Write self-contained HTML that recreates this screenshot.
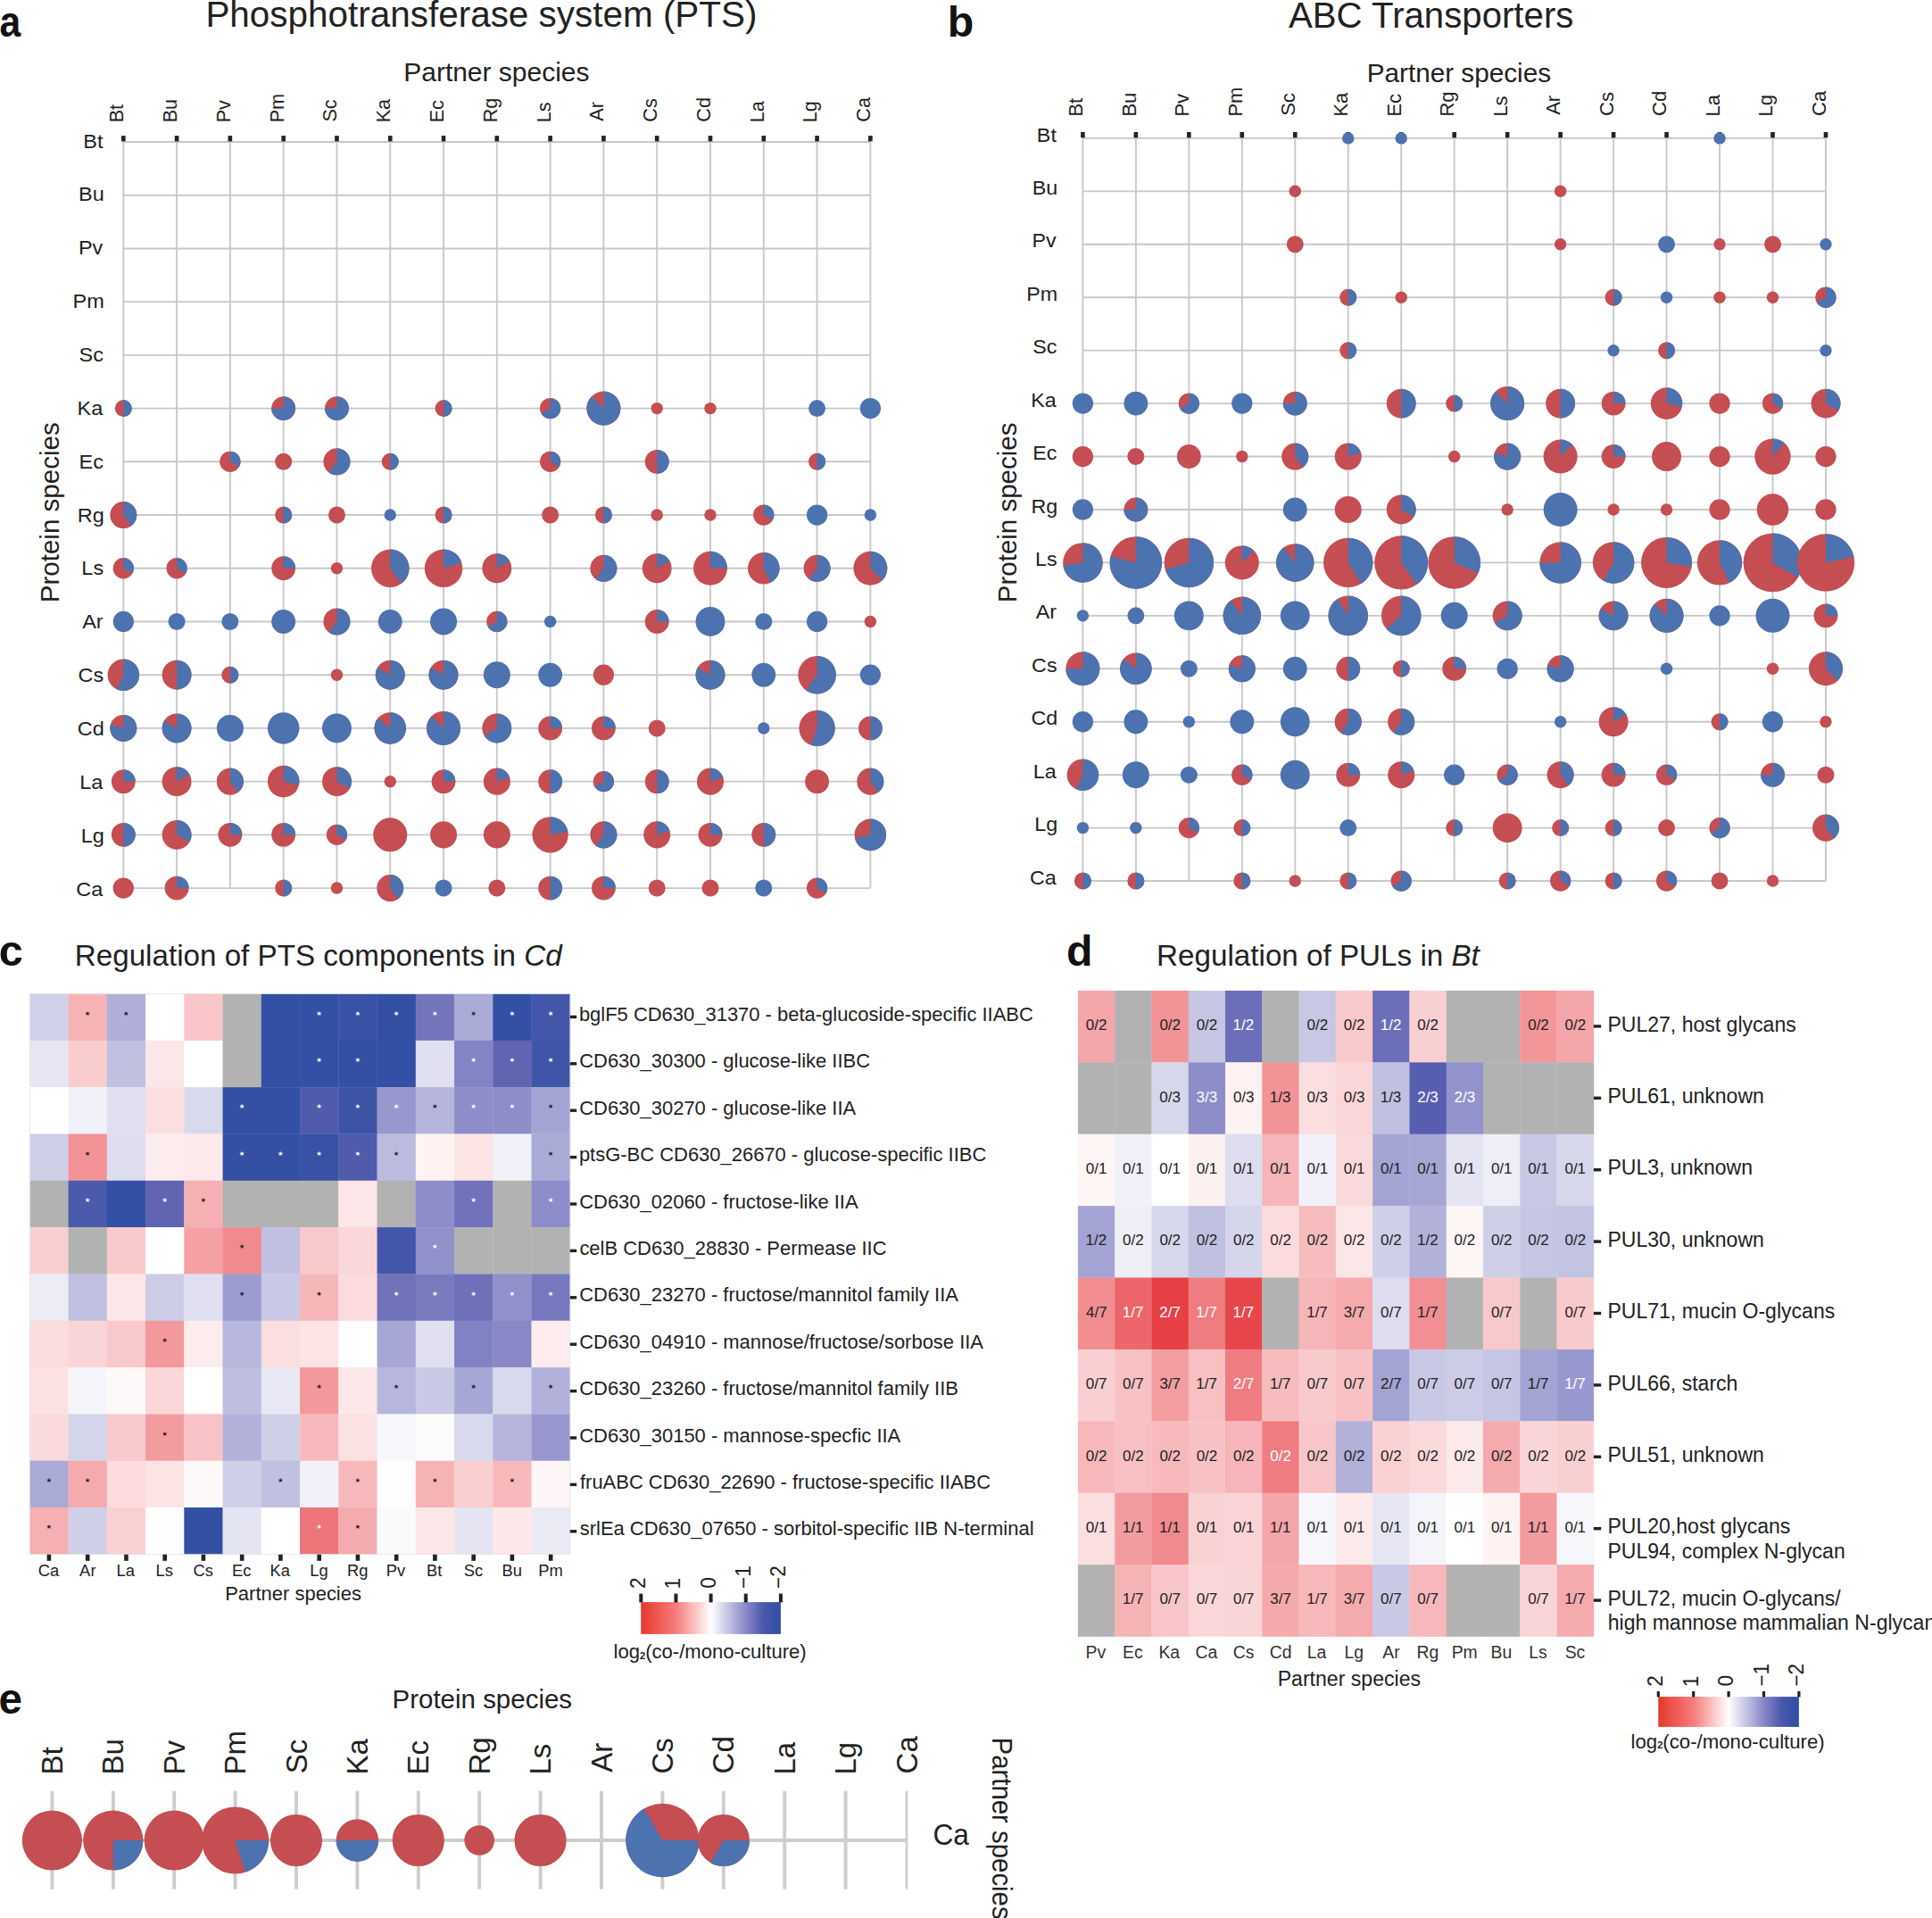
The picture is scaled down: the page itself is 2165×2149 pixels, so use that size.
<!DOCTYPE html>
<html><head><meta charset="utf-8"><title>Figure</title>
<style>html,body{margin:0;padding:0;background:#fff}svg{display:block}text{font-family:"Liberation Sans",sans-serif;white-space:pre}</style>
</head><body>
<svg width="2165" height="2149" viewBox="0 0 2165 2149">
<rect width="2165" height="2149" fill="#fff"/>
<path d="M138.30,159.00V995.08M138.30,159.00H975.36M198.09,159.00V995.08M138.30,218.72H975.36M257.88,159.00V995.08M138.30,278.44H975.36M317.67,159.00V995.08M138.30,338.16H975.36M377.46,159.00V995.08M138.30,397.88H975.36M437.25,159.00V995.08M138.30,457.60H975.36M497.04,159.00V995.08M138.30,517.32H975.36M556.83,159.00V995.08M138.30,577.04H975.36M616.62,159.00V995.08M138.30,636.76H975.36M676.41,159.00V995.08M138.30,696.48H975.36M736.20,159.00V995.08M138.30,756.20H975.36M795.99,159.00V995.08M138.30,815.92H975.36M855.78,159.00V995.08M138.30,875.64H975.36M915.57,159.00V995.08M138.30,935.36H975.36M975.36,159.00V995.08M138.30,995.08H975.36" stroke="#c8c8c8" stroke-width="1.9" fill="none"/>
<rect x="136.00" y="152.10" width="4.6" height="6.3" fill="#222"/>
<rect x="195.79" y="152.10" width="4.6" height="6.3" fill="#222"/>
<rect x="255.58" y="152.10" width="4.6" height="6.3" fill="#222"/>
<rect x="315.37" y="152.10" width="4.6" height="6.3" fill="#222"/>
<rect x="375.16" y="152.10" width="4.6" height="6.3" fill="#222"/>
<rect x="434.95" y="152.10" width="4.6" height="6.3" fill="#222"/>
<rect x="494.74" y="152.10" width="4.6" height="6.3" fill="#222"/>
<rect x="554.53" y="152.10" width="4.6" height="6.3" fill="#222"/>
<rect x="614.32" y="152.10" width="4.6" height="6.3" fill="#222"/>
<rect x="674.11" y="152.10" width="4.6" height="6.3" fill="#222"/>
<rect x="733.90" y="152.10" width="4.6" height="6.3" fill="#222"/>
<rect x="793.69" y="152.10" width="4.6" height="6.3" fill="#222"/>
<rect x="853.48" y="152.10" width="4.6" height="6.3" fill="#222"/>
<rect x="913.27" y="152.10" width="4.6" height="6.3" fill="#222"/>
<rect x="973.06" y="152.10" width="4.6" height="6.3" fill="#222"/>
<circle cx="138.30" cy="457.60" r="9.50" fill="#c44e52"/>
<path d="M138.30,457.60L138.30,448.10A9.50,9.50 0 0 1 138.30,467.10Z" fill="#4c72b0"/>
<circle cx="317.67" cy="457.60" r="13.44" fill="#c44e52"/>
<path d="M317.67,457.60L317.67,444.16A13.44,13.44 0 1 1 304.23,457.60Z" fill="#4c72b0"/>
<circle cx="377.46" cy="457.60" r="13.44" fill="#c44e52"/>
<path d="M377.46,457.60L377.46,444.16A13.44,13.44 0 1 1 364.02,457.60Z" fill="#4c72b0"/>
<circle cx="497.04" cy="457.60" r="9.50" fill="#c44e52"/>
<path d="M497.04,457.60L497.04,448.10A9.50,9.50 0 0 1 497.04,467.10Z" fill="#4c72b0"/>
<circle cx="616.62" cy="457.60" r="11.64" fill="#c44e52"/>
<path d="M616.62,457.60L616.62,445.96A11.64,11.64 0 1 1 606.54,463.42Z" fill="#4c72b0"/>
<circle cx="676.41" cy="457.60" r="19.01" fill="#c44e52"/>
<path d="M676.41,457.60L676.41,438.59A19.01,19.01 0 1 1 662.97,444.16Z" fill="#4c72b0"/>
<circle cx="736.20" cy="457.60" r="6.72" fill="#c44e52"/>
<circle cx="795.99" cy="457.60" r="6.72" fill="#c44e52"/>
<circle cx="915.57" cy="457.60" r="9.50" fill="#4c72b0"/>
<circle cx="975.36" cy="457.60" r="11.64" fill="#4c72b0"/>
<circle cx="257.88" cy="517.32" r="11.64" fill="#c44e52"/>
<path d="M257.88,517.32L257.88,505.68A11.64,11.64 0 0 1 267.96,523.14Z" fill="#4c72b0"/>
<circle cx="317.67" cy="517.32" r="9.50" fill="#c44e52"/>
<circle cx="377.46" cy="517.32" r="15.03" fill="#c44e52"/>
<path d="M377.46,517.32L377.46,502.29A15.03,15.03 0 1 1 368.63,529.48Z" fill="#4c72b0"/>
<circle cx="437.25" cy="517.32" r="9.50" fill="#c44e52"/>
<path d="M437.25,517.32L437.25,507.82A9.50,9.50 0 0 1 437.25,526.82Z" fill="#4c72b0"/>
<circle cx="616.62" cy="517.32" r="11.64" fill="#c44e52"/>
<path d="M616.62,517.32L616.62,505.68A11.64,11.64 0 0 1 626.70,523.14Z" fill="#4c72b0"/>
<circle cx="736.20" cy="517.32" r="13.44" fill="#c44e52"/>
<path d="M736.20,517.32L736.20,503.88A13.44,13.44 0 0 1 736.20,530.76Z" fill="#4c72b0"/>
<circle cx="915.57" cy="517.32" r="9.50" fill="#c44e52"/>
<path d="M915.57,517.32L915.57,507.82A9.50,9.50 0 0 1 915.57,526.82Z" fill="#4c72b0"/>
<circle cx="138.30" cy="577.04" r="15.03" fill="#c44e52"/>
<path d="M138.30,577.04L138.30,562.01A15.03,15.03 0 0 1 147.13,589.20Z" fill="#4c72b0"/>
<circle cx="317.67" cy="577.04" r="9.50" fill="#c44e52"/>
<path d="M317.67,577.04L317.67,567.54A9.50,9.50 0 0 1 317.67,586.54Z" fill="#4c72b0"/>
<circle cx="377.46" cy="577.04" r="9.50" fill="#c44e52"/>
<circle cx="437.25" cy="577.04" r="6.72" fill="#4c72b0"/>
<circle cx="497.04" cy="577.04" r="9.50" fill="#c44e52"/>
<path d="M497.04,577.04L497.04,567.54A9.50,9.50 0 0 1 497.04,586.54Z" fill="#4c72b0"/>
<circle cx="616.62" cy="577.04" r="9.50" fill="#c44e52"/>
<circle cx="676.41" cy="577.04" r="9.50" fill="#c44e52"/>
<path d="M676.41,577.04L676.41,567.54A9.50,9.50 0 0 1 676.41,586.54Z" fill="#4c72b0"/>
<circle cx="736.20" cy="577.04" r="6.72" fill="#c44e52"/>
<circle cx="795.99" cy="577.04" r="6.72" fill="#c44e52"/>
<circle cx="855.78" cy="577.04" r="11.64" fill="#c44e52"/>
<path d="M855.78,577.04L855.78,565.40A11.64,11.64 0 0 1 865.86,582.86Z" fill="#4c72b0"/>
<circle cx="915.57" cy="577.04" r="11.64" fill="#4c72b0"/>
<circle cx="975.36" cy="577.04" r="6.72" fill="#4c72b0"/>
<circle cx="138.30" cy="636.76" r="11.64" fill="#c44e52"/>
<path d="M138.30,636.76L138.30,625.12A11.64,11.64 0 0 1 148.38,642.58Z" fill="#4c72b0"/>
<circle cx="198.09" cy="636.76" r="11.64" fill="#c44e52"/>
<path d="M198.09,636.76L198.09,625.12A11.64,11.64 0 0 1 208.17,642.58Z" fill="#4c72b0"/>
<circle cx="317.67" cy="636.76" r="13.44" fill="#c44e52"/>
<path d="M317.67,636.76L317.67,623.32A13.44,13.44 0 0 1 331.11,636.76Z" fill="#4c72b0"/>
<circle cx="377.46" cy="636.76" r="6.72" fill="#c44e52"/>
<circle cx="437.25" cy="636.76" r="21.25" fill="#c44e52"/>
<path d="M437.25,636.76L437.25,615.51A21.25,21.25 0 0 1 449.74,653.95Z" fill="#4c72b0"/>
<circle cx="497.04" cy="636.76" r="21.25" fill="#c44e52"/>
<path d="M497.04,636.76L497.04,615.51A21.25,21.25 0 0 1 517.25,630.19Z" fill="#4c72b0"/>
<circle cx="556.83" cy="636.76" r="16.46" fill="#c44e52"/>
<path d="M556.83,636.76L556.83,620.30A16.46,16.46 0 0 1 571.09,628.53Z" fill="#4c72b0"/>
<circle cx="676.41" cy="636.76" r="15.03" fill="#c44e52"/>
<path d="M676.41,636.76L676.41,621.73A15.03,15.03 0 1 1 667.58,648.92Z" fill="#4c72b0"/>
<circle cx="736.20" cy="636.76" r="16.46" fill="#c44e52"/>
<path d="M736.20,636.76L736.20,620.30A16.46,16.46 0 0 1 750.46,628.53Z" fill="#4c72b0"/>
<circle cx="795.99" cy="636.76" r="19.01" fill="#c44e52"/>
<path d="M795.99,636.76L795.99,617.75A19.01,19.01 0 0 1 815.00,636.76Z" fill="#4c72b0"/>
<circle cx="855.78" cy="636.76" r="17.78" fill="#c44e52"/>
<path d="M855.78,636.76L855.78,618.98A17.78,17.78 0 0 1 863.49,652.78Z" fill="#4c72b0"/>
<circle cx="915.57" cy="636.76" r="15.03" fill="#c44e52"/>
<path d="M915.57,636.76L915.57,621.73A15.03,15.03 0 1 1 906.74,648.92Z" fill="#4c72b0"/>
<circle cx="975.36" cy="636.76" r="19.01" fill="#c44e52"/>
<path d="M975.36,636.76L975.36,617.75A19.01,19.01 0 0 1 988.80,650.20Z" fill="#4c72b0"/>
<circle cx="138.30" cy="696.48" r="11.64" fill="#4c72b0"/>
<circle cx="198.09" cy="696.48" r="9.50" fill="#4c72b0"/>
<circle cx="257.88" cy="696.48" r="9.50" fill="#4c72b0"/>
<circle cx="317.67" cy="696.48" r="13.44" fill="#4c72b0"/>
<circle cx="377.46" cy="696.48" r="15.03" fill="#c44e52"/>
<path d="M377.46,696.48L377.46,681.45A15.03,15.03 0 1 1 368.63,708.64Z" fill="#4c72b0"/>
<circle cx="437.25" cy="696.48" r="13.44" fill="#4c72b0"/>
<circle cx="497.04" cy="696.48" r="15.03" fill="#4c72b0"/>
<circle cx="556.83" cy="696.48" r="11.64" fill="#c44e52"/>
<path d="M556.83,696.48L556.83,684.84A11.64,11.64 0 1 1 546.75,702.30Z" fill="#4c72b0"/>
<circle cx="616.62" cy="696.48" r="6.72" fill="#4c72b0"/>
<circle cx="736.20" cy="696.48" r="13.44" fill="#c44e52"/>
<path d="M736.20,696.48L736.20,683.04A13.44,13.44 0 0 1 749.64,696.48Z" fill="#4c72b0"/>
<circle cx="795.99" cy="696.48" r="16.46" fill="#4c72b0"/>
<circle cx="855.78" cy="696.48" r="9.50" fill="#4c72b0"/>
<circle cx="915.57" cy="696.48" r="11.64" fill="#4c72b0"/>
<circle cx="975.36" cy="696.48" r="6.72" fill="#c44e52"/>
<circle cx="138.30" cy="756.20" r="17.78" fill="#c44e52"/>
<path d="M138.30,756.20L138.30,738.42A17.78,17.78 0 1 1 130.59,772.22Z" fill="#4c72b0"/>
<circle cx="198.09" cy="756.20" r="16.46" fill="#c44e52"/>
<path d="M198.09,756.20L198.09,739.74A16.46,16.46 0 0 1 198.09,772.66Z" fill="#4c72b0"/>
<circle cx="257.88" cy="756.20" r="9.50" fill="#c44e52"/>
<path d="M257.88,756.20L257.88,746.70A9.50,9.50 0 0 1 257.88,765.70Z" fill="#4c72b0"/>
<circle cx="377.46" cy="756.20" r="6.72" fill="#c44e52"/>
<circle cx="437.25" cy="756.20" r="16.46" fill="#c44e52"/>
<path d="M437.25,756.20L437.25,739.74A16.46,16.46 0 1 1 422.99,747.97Z" fill="#4c72b0"/>
<circle cx="497.04" cy="756.20" r="16.46" fill="#c44e52"/>
<path d="M497.04,756.20L497.04,739.74A16.46,16.46 0 1 1 482.78,747.97Z" fill="#4c72b0"/>
<circle cx="556.83" cy="756.20" r="15.03" fill="#4c72b0"/>
<circle cx="616.62" cy="756.20" r="13.44" fill="#4c72b0"/>
<circle cx="676.41" cy="756.20" r="11.64" fill="#c44e52"/>
<circle cx="795.99" cy="756.20" r="16.46" fill="#c44e52"/>
<path d="M795.99,756.20L795.99,739.74A16.46,16.46 0 1 1 781.73,747.97Z" fill="#4c72b0"/>
<circle cx="855.78" cy="756.20" r="13.44" fill="#4c72b0"/>
<circle cx="915.57" cy="756.20" r="21.25" fill="#c44e52"/>
<path d="M915.57,756.20L915.57,734.95A21.25,21.25 0 1 1 903.08,773.39Z" fill="#4c72b0"/>
<circle cx="975.36" cy="756.20" r="11.64" fill="#4c72b0"/>
<circle cx="138.30" cy="815.92" r="15.03" fill="#c44e52"/>
<path d="M138.30,815.92L138.30,800.89A15.03,15.03 0 1 1 124.01,811.28Z" fill="#4c72b0"/>
<circle cx="198.09" cy="815.92" r="16.46" fill="#c44e52"/>
<path d="M198.09,815.92L198.09,799.46A16.46,16.46 0 1 1 183.83,807.69Z" fill="#4c72b0"/>
<circle cx="257.88" cy="815.92" r="15.03" fill="#4c72b0"/>
<circle cx="317.67" cy="815.92" r="17.78" fill="#4c72b0"/>
<circle cx="377.46" cy="815.92" r="16.46" fill="#4c72b0"/>
<circle cx="437.25" cy="815.92" r="17.78" fill="#c44e52"/>
<path d="M437.25,815.92L437.25,798.14A17.78,17.78 0 1 1 423.35,804.83Z" fill="#4c72b0"/>
<circle cx="497.04" cy="815.92" r="19.01" fill="#c44e52"/>
<path d="M497.04,815.92L497.04,796.91A19.01,19.01 0 1 1 483.60,802.48Z" fill="#4c72b0"/>
<circle cx="556.83" cy="815.92" r="16.46" fill="#c44e52"/>
<path d="M556.83,815.92L556.83,799.46A16.46,16.46 0 1 1 542.57,824.15Z" fill="#4c72b0"/>
<circle cx="616.62" cy="815.92" r="13.44" fill="#c44e52"/>
<path d="M616.62,815.92L616.62,802.48A13.44,13.44 0 0 1 630.06,815.92Z" fill="#4c72b0"/>
<circle cx="676.41" cy="815.92" r="13.44" fill="#c44e52"/>
<path d="M676.41,815.92L676.41,802.48A13.44,13.44 0 0 1 689.85,815.92Z" fill="#4c72b0"/>
<circle cx="736.20" cy="815.92" r="9.50" fill="#c44e52"/>
<circle cx="855.78" cy="815.92" r="6.72" fill="#4c72b0"/>
<circle cx="915.57" cy="815.92" r="20.16" fill="#c44e52"/>
<path d="M915.57,815.92L915.57,795.76A20.16,20.16 0 1 1 908.67,834.86Z" fill="#4c72b0"/>
<circle cx="975.36" cy="815.92" r="13.44" fill="#c44e52"/>
<path d="M975.36,815.92L975.36,802.48A13.44,13.44 0 0 1 975.36,829.36Z" fill="#4c72b0"/>
<circle cx="138.30" cy="875.64" r="13.44" fill="#c44e52"/>
<path d="M138.30,875.64L138.30,862.20A13.44,13.44 0 0 1 151.74,875.64Z" fill="#4c72b0"/>
<circle cx="198.09" cy="875.64" r="16.46" fill="#c44e52"/>
<path d="M198.09,875.64L198.09,859.18A16.46,16.46 0 0 1 212.35,867.41Z" fill="#4c72b0"/>
<circle cx="257.88" cy="875.64" r="15.03" fill="#c44e52"/>
<path d="M257.88,875.64L257.88,860.61A15.03,15.03 0 0 1 266.71,887.80Z" fill="#4c72b0"/>
<circle cx="317.67" cy="875.64" r="17.78" fill="#c44e52"/>
<path d="M317.67,875.64L317.67,857.86A17.78,17.78 0 0 1 335.00,879.60Z" fill="#4c72b0"/>
<circle cx="377.46" cy="875.64" r="16.46" fill="#c44e52"/>
<path d="M377.46,875.64L377.46,859.18A16.46,16.46 0 0 1 391.72,883.87Z" fill="#4c72b0"/>
<circle cx="437.25" cy="875.64" r="6.72" fill="#c44e52"/>
<circle cx="497.04" cy="875.64" r="13.44" fill="#c44e52"/>
<path d="M497.04,875.64L497.04,862.20A13.44,13.44 0 0 1 510.48,875.64Z" fill="#4c72b0"/>
<circle cx="556.83" cy="875.64" r="15.03" fill="#c44e52"/>
<path d="M556.83,875.64L556.83,860.61A15.03,15.03 0 0 1 571.12,871.00Z" fill="#4c72b0"/>
<circle cx="616.62" cy="875.64" r="13.44" fill="#c44e52"/>
<path d="M616.62,875.64L616.62,862.20A13.44,13.44 0 0 1 616.62,889.08Z" fill="#4c72b0"/>
<circle cx="676.41" cy="875.64" r="11.64" fill="#c44e52"/>
<path d="M676.41,875.64L676.41,864.00A11.64,11.64 0 1 1 666.33,881.46Z" fill="#4c72b0"/>
<circle cx="736.20" cy="875.64" r="13.44" fill="#c44e52"/>
<path d="M736.20,875.64L736.20,862.20A13.44,13.44 0 0 1 736.20,889.08Z" fill="#4c72b0"/>
<circle cx="795.99" cy="875.64" r="15.03" fill="#c44e52"/>
<path d="M795.99,875.64L795.99,860.61A15.03,15.03 0 0 1 810.28,871.00Z" fill="#4c72b0"/>
<circle cx="915.57" cy="875.64" r="13.44" fill="#c44e52"/>
<circle cx="975.36" cy="875.64" r="15.03" fill="#c44e52"/>
<path d="M975.36,875.64L975.36,860.61A15.03,15.03 0 0 1 984.19,887.80Z" fill="#4c72b0"/>
<circle cx="138.30" cy="935.36" r="13.44" fill="#c44e52"/>
<path d="M138.30,935.36L138.30,921.92A13.44,13.44 0 0 1 138.30,948.80Z" fill="#4c72b0"/>
<circle cx="198.09" cy="935.36" r="16.46" fill="#c44e52"/>
<path d="M198.09,935.36L198.09,918.90A16.46,16.46 0 0 1 212.35,943.59Z" fill="#4c72b0"/>
<circle cx="257.88" cy="935.36" r="13.44" fill="#c44e52"/>
<path d="M257.88,935.36L257.88,921.92A13.44,13.44 0 0 1 271.32,935.36Z" fill="#4c72b0"/>
<circle cx="317.67" cy="935.36" r="13.44" fill="#c44e52"/>
<path d="M317.67,935.36L317.67,921.92A13.44,13.44 0 0 1 331.11,935.36Z" fill="#4c72b0"/>
<circle cx="377.46" cy="935.36" r="11.64" fill="#c44e52"/>
<path d="M377.46,935.36L377.46,923.72A11.64,11.64 0 0 1 387.54,941.18Z" fill="#4c72b0"/>
<circle cx="437.25" cy="935.36" r="19.01" fill="#c44e52"/>
<circle cx="497.04" cy="935.36" r="15.03" fill="#c44e52"/>
<circle cx="556.83" cy="935.36" r="15.03" fill="#c44e52"/>
<circle cx="616.62" cy="935.36" r="20.16" fill="#c44e52"/>
<path d="M616.62,935.36L616.62,915.20A20.16,20.16 0 0 1 636.47,931.86Z" fill="#4c72b0"/>
<circle cx="676.41" cy="935.36" r="15.03" fill="#c44e52"/>
<path d="M676.41,935.36L676.41,920.33A15.03,15.03 0 1 1 667.58,947.52Z" fill="#4c72b0"/>
<circle cx="736.20" cy="935.36" r="15.03" fill="#c44e52"/>
<path d="M736.20,935.36L736.20,920.33A15.03,15.03 0 0 1 750.49,930.72Z" fill="#4c72b0"/>
<circle cx="795.99" cy="935.36" r="13.44" fill="#c44e52"/>
<path d="M795.99,935.36L795.99,921.92A13.44,13.44 0 0 1 809.43,935.36Z" fill="#4c72b0"/>
<circle cx="855.78" cy="935.36" r="13.44" fill="#c44e52"/>
<path d="M855.78,935.36L855.78,921.92A13.44,13.44 0 0 1 855.78,948.80Z" fill="#4c72b0"/>
<circle cx="975.36" cy="935.36" r="17.78" fill="#c44e52"/>
<path d="M975.36,935.36L975.36,917.58A17.78,17.78 0 1 1 958.03,939.32Z" fill="#4c72b0"/>
<circle cx="138.30" cy="995.08" r="11.64" fill="#c44e52"/>
<circle cx="198.09" cy="995.08" r="13.44" fill="#c44e52"/>
<path d="M198.09,995.08L198.09,981.64A13.44,13.44 0 0 1 211.53,995.08Z" fill="#4c72b0"/>
<circle cx="317.67" cy="995.08" r="9.50" fill="#c44e52"/>
<path d="M317.67,995.08L317.67,985.58A9.50,9.50 0 0 1 317.67,1004.58Z" fill="#4c72b0"/>
<circle cx="377.46" cy="995.08" r="6.72" fill="#c44e52"/>
<circle cx="437.25" cy="995.08" r="15.03" fill="#c44e52"/>
<path d="M437.25,995.08L437.25,980.05A15.03,15.03 0 0 1 446.08,1007.24Z" fill="#4c72b0"/>
<circle cx="497.04" cy="995.08" r="9.50" fill="#4c72b0"/>
<circle cx="556.83" cy="995.08" r="9.50" fill="#c44e52"/>
<circle cx="616.62" cy="995.08" r="13.44" fill="#c44e52"/>
<path d="M616.62,995.08L616.62,981.64A13.44,13.44 0 0 1 616.62,1008.52Z" fill="#4c72b0"/>
<circle cx="676.41" cy="995.08" r="13.44" fill="#c44e52"/>
<path d="M676.41,995.08L676.41,981.64A13.44,13.44 0 0 1 689.85,995.08Z" fill="#4c72b0"/>
<circle cx="736.20" cy="995.08" r="9.50" fill="#c44e52"/>
<circle cx="795.99" cy="995.08" r="9.50" fill="#c44e52"/>
<circle cx="855.78" cy="995.08" r="9.50" fill="#4c72b0"/>
<circle cx="915.57" cy="995.08" r="11.64" fill="#c44e52"/>
<path d="M915.57,995.08L915.57,983.44A11.64,11.64 0 0 1 925.65,1000.90Z" fill="#4c72b0"/>
<text transform="translate(-0.44,41.30)" font-size="47.5" font-weight="bold" font-style="normal" fill="#111" textLength="23.75" lengthAdjust="spacingAndGlyphs">a</text>
<text transform="translate(230.38,29.80)" font-size="40.3" font-weight="normal" font-style="normal" fill="#222" textLength="618.11" lengthAdjust="spacingAndGlyphs">Phosphotransferase system (PTS)</text>
<text transform="translate(452.24,91.30)" font-size="29.8" font-weight="normal" font-style="normal" fill="#222" textLength="208.23" lengthAdjust="spacingAndGlyphs">Partner species</text>
<text transform="translate(65.90,675.22) rotate(-90)" font-size="29.5" font-weight="normal" font-style="normal" fill="#222" textLength="201.88" lengthAdjust="spacingAndGlyphs">Protein species</text>
<text transform="translate(138.20,137.37) rotate(-90)" font-size="22.2" font-weight="normal" font-style="normal" fill="#222" textLength="20.43" lengthAdjust="spacingAndGlyphs">Bt</text>
<text transform="translate(93.25,165.60)" font-size="22.6" font-weight="normal" font-style="normal" fill="#222" textLength="22.21" lengthAdjust="spacingAndGlyphs">Bt</text>
<text transform="translate(197.99,137.37) rotate(-90)" font-size="22.2" font-weight="normal" font-style="normal" fill="#222" textLength="26.45" lengthAdjust="spacingAndGlyphs">Bu</text>
<text transform="translate(88.11,225.45)" font-size="22.6" font-weight="normal" font-style="normal" fill="#222" textLength="28.75" lengthAdjust="spacingAndGlyphs">Bu</text>
<text transform="translate(257.78,137.37) rotate(-90)" font-size="22.2" font-weight="normal" font-style="normal" fill="#222" textLength="25.23" lengthAdjust="spacingAndGlyphs">Pv</text>
<text transform="translate(87.94,285.30)" font-size="22.6" font-weight="normal" font-style="normal" fill="#222" textLength="27.43" lengthAdjust="spacingAndGlyphs">Pv</text>
<text transform="translate(317.57,137.37) rotate(-90)" font-size="22.2" font-weight="normal" font-style="normal" fill="#222" textLength="32.43" lengthAdjust="spacingAndGlyphs">Pm</text>
<text transform="translate(81.57,345.15)" font-size="22.6" font-weight="normal" font-style="normal" fill="#222" textLength="35.26" lengthAdjust="spacingAndGlyphs">Pm</text>
<text transform="translate(377.36,136.57) rotate(-90)" font-size="22.2" font-weight="normal" font-style="normal" fill="#222" textLength="25.23" lengthAdjust="spacingAndGlyphs">Sc</text>
<text transform="translate(88.48,405.00)" font-size="22.6" font-weight="normal" font-style="normal" fill="#222" textLength="27.43" lengthAdjust="spacingAndGlyphs">Sc</text>
<text transform="translate(437.15,137.37) rotate(-90)" font-size="22.2" font-weight="normal" font-style="normal" fill="#222" textLength="26.45" lengthAdjust="spacingAndGlyphs">Ka</text>
<text transform="translate(86.53,464.85)" font-size="22.6" font-weight="normal" font-style="normal" fill="#222" textLength="28.75" lengthAdjust="spacingAndGlyphs">Ka</text>
<text transform="translate(496.94,137.37) rotate(-90)" font-size="22.2" font-weight="normal" font-style="normal" fill="#222" textLength="25.23" lengthAdjust="spacingAndGlyphs">Ec</text>
<text transform="translate(88.48,524.70)" font-size="22.6" font-weight="normal" font-style="normal" fill="#222" textLength="27.43" lengthAdjust="spacingAndGlyphs">Ec</text>
<text transform="translate(556.73,137.37) rotate(-90)" font-size="22.2" font-weight="normal" font-style="normal" fill="#222" textLength="27.64" lengthAdjust="spacingAndGlyphs">Rg</text>
<text transform="translate(86.77,584.55)" font-size="22.6" font-weight="normal" font-style="normal" fill="#222" textLength="30.05" lengthAdjust="spacingAndGlyphs">Rg</text>
<text transform="translate(616.52,137.37) rotate(-90)" font-size="22.2" font-weight="normal" font-style="normal" fill="#222" textLength="22.84" lengthAdjust="spacingAndGlyphs">Ls</text>
<text transform="translate(91.33,644.40)" font-size="22.6" font-weight="normal" font-style="normal" fill="#222" textLength="24.82" lengthAdjust="spacingAndGlyphs">Ls</text>
<text transform="translate(676.31,135.64) rotate(-90)" font-size="22.2" font-weight="normal" font-style="normal" fill="#222" textLength="21.62" lengthAdjust="spacingAndGlyphs">Ar</text>
<text transform="translate(92.17,704.25)" font-size="22.6" font-weight="normal" font-style="normal" fill="#222" textLength="23.50" lengthAdjust="spacingAndGlyphs">Ar</text>
<text transform="translate(736.10,136.68) rotate(-90)" font-size="22.2" font-weight="normal" font-style="normal" fill="#222" textLength="26.43" lengthAdjust="spacingAndGlyphs">Cs</text>
<text transform="translate(87.42,764.10)" font-size="22.6" font-weight="normal" font-style="normal" fill="#222" textLength="28.73" lengthAdjust="spacingAndGlyphs">Cs</text>
<text transform="translate(795.89,136.68) rotate(-90)" font-size="22.2" font-weight="normal" font-style="normal" fill="#222" textLength="27.64" lengthAdjust="spacingAndGlyphs">Cd</text>
<text transform="translate(86.77,823.95)" font-size="22.6" font-weight="normal" font-style="normal" fill="#222" textLength="30.05" lengthAdjust="spacingAndGlyphs">Cd</text>
<text transform="translate(855.68,137.37) rotate(-90)" font-size="22.2" font-weight="normal" font-style="normal" fill="#222" textLength="24.05" lengthAdjust="spacingAndGlyphs">La</text>
<text transform="translate(89.14,883.80)" font-size="22.6" font-weight="normal" font-style="normal" fill="#222" textLength="26.14" lengthAdjust="spacingAndGlyphs">La</text>
<text transform="translate(915.47,137.37) rotate(-90)" font-size="22.2" font-weight="normal" font-style="normal" fill="#222" textLength="24.05" lengthAdjust="spacingAndGlyphs">Lg</text>
<text transform="translate(90.67,943.65)" font-size="22.6" font-weight="normal" font-style="normal" fill="#222" textLength="26.14" lengthAdjust="spacingAndGlyphs">Lg</text>
<text transform="translate(975.26,136.68) rotate(-90)" font-size="22.2" font-weight="normal" font-style="normal" fill="#222" textLength="27.64" lengthAdjust="spacingAndGlyphs">Ca</text>
<text transform="translate(85.24,1003.50)" font-size="22.6" font-weight="normal" font-style="normal" fill="#222" textLength="30.05" lengthAdjust="spacingAndGlyphs">Ca</text>
<path d="M1213.40,154.90V987.06M1213.40,154.90H2045.98M1272.87,154.90V987.06M1213.40,214.34H2045.98M1332.34,154.90V987.06M1213.40,273.78H2045.98M1391.81,154.90V987.06M1213.40,333.22H2045.98M1451.28,154.90V987.06M1213.40,392.66H2045.98M1510.75,154.90V987.06M1213.40,452.10H2045.98M1570.22,154.90V987.06M1213.40,511.54H2045.98M1629.69,154.90V987.06M1213.40,570.98H2045.98M1689.16,154.90V987.06M1213.40,630.42H2045.98M1748.63,154.90V987.06M1213.40,689.86H2045.98M1808.10,154.90V987.06M1213.40,749.30H2045.98M1867.57,154.90V987.06M1213.40,808.74H2045.98M1927.04,154.90V987.06M1213.40,868.18H2045.98M1986.51,154.90V987.06M1213.40,927.62H2045.98M2045.98,154.90V987.06M1213.40,987.06H2045.98" stroke="#c8c8c8" stroke-width="1.9" fill="none"/>
<rect x="1211.10" y="148.00" width="4.6" height="6.3" fill="#222"/>
<rect x="1270.57" y="148.00" width="4.6" height="6.3" fill="#222"/>
<rect x="1330.04" y="148.00" width="4.6" height="6.3" fill="#222"/>
<rect x="1389.51" y="148.00" width="4.6" height="6.3" fill="#222"/>
<rect x="1448.98" y="148.00" width="4.6" height="6.3" fill="#222"/>
<rect x="1508.45" y="148.00" width="4.6" height="6.3" fill="#222"/>
<rect x="1567.92" y="148.00" width="4.6" height="6.3" fill="#222"/>
<rect x="1627.39" y="148.00" width="4.6" height="6.3" fill="#222"/>
<rect x="1686.86" y="148.00" width="4.6" height="6.3" fill="#222"/>
<rect x="1746.33" y="148.00" width="4.6" height="6.3" fill="#222"/>
<rect x="1805.80" y="148.00" width="4.6" height="6.3" fill="#222"/>
<rect x="1865.27" y="148.00" width="4.6" height="6.3" fill="#222"/>
<rect x="1924.74" y="148.00" width="4.6" height="6.3" fill="#222"/>
<rect x="1984.21" y="148.00" width="4.6" height="6.3" fill="#222"/>
<rect x="2043.68" y="148.00" width="4.6" height="6.3" fill="#222"/>
<circle cx="1510.75" cy="154.90" r="6.72" fill="#4c72b0"/>
<circle cx="1570.22" cy="154.90" r="6.72" fill="#4c72b0"/>
<circle cx="1927.04" cy="154.90" r="6.72" fill="#4c72b0"/>
<circle cx="1451.28" cy="214.34" r="6.72" fill="#c44e52"/>
<circle cx="1748.63" cy="214.34" r="6.72" fill="#c44e52"/>
<circle cx="1451.28" cy="273.78" r="9.50" fill="#c44e52"/>
<circle cx="1748.63" cy="273.78" r="6.72" fill="#c44e52"/>
<circle cx="1867.57" cy="273.78" r="9.50" fill="#4c72b0"/>
<circle cx="1927.04" cy="273.78" r="6.72" fill="#c44e52"/>
<circle cx="1986.51" cy="273.78" r="9.50" fill="#c44e52"/>
<circle cx="2045.98" cy="273.78" r="6.72" fill="#4c72b0"/>
<circle cx="1510.75" cy="333.22" r="9.50" fill="#c44e52"/>
<path d="M1510.75,333.22L1510.75,323.72A9.50,9.50 0 0 1 1510.75,342.72Z" fill="#4c72b0"/>
<circle cx="1570.22" cy="333.22" r="6.72" fill="#c44e52"/>
<circle cx="1808.10" cy="333.22" r="9.50" fill="#c44e52"/>
<path d="M1808.10,333.22L1808.10,323.72A9.50,9.50 0 0 1 1808.10,342.72Z" fill="#4c72b0"/>
<circle cx="1867.57" cy="333.22" r="6.72" fill="#4c72b0"/>
<circle cx="1927.04" cy="333.22" r="6.72" fill="#c44e52"/>
<circle cx="1986.51" cy="333.22" r="6.72" fill="#c44e52"/>
<circle cx="2045.98" cy="333.22" r="11.64" fill="#c44e52"/>
<path d="M2045.98,333.22L2045.98,321.58A11.64,11.64 0 1 1 2035.90,339.04Z" fill="#4c72b0"/>
<circle cx="1510.75" cy="392.66" r="9.50" fill="#c44e52"/>
<path d="M1510.75,392.66L1510.75,383.16A9.50,9.50 0 0 1 1510.75,402.16Z" fill="#4c72b0"/>
<circle cx="1808.10" cy="392.66" r="6.72" fill="#4c72b0"/>
<circle cx="1867.57" cy="392.66" r="9.50" fill="#c44e52"/>
<path d="M1867.57,392.66L1867.57,383.16A9.50,9.50 0 0 1 1867.57,402.16Z" fill="#4c72b0"/>
<circle cx="2045.98" cy="392.66" r="6.72" fill="#4c72b0"/>
<circle cx="1213.40" cy="452.10" r="11.64" fill="#4c72b0"/>
<circle cx="1272.87" cy="452.10" r="13.44" fill="#4c72b0"/>
<circle cx="1332.34" cy="452.10" r="11.64" fill="#c44e52"/>
<path d="M1332.34,452.10L1332.34,440.46A11.64,11.64 0 1 1 1322.26,457.92Z" fill="#4c72b0"/>
<circle cx="1391.81" cy="452.10" r="11.64" fill="#4c72b0"/>
<circle cx="1451.28" cy="452.10" r="13.44" fill="#c44e52"/>
<path d="M1451.28,452.10L1451.28,438.66A13.44,13.44 0 1 1 1437.84,452.10Z" fill="#4c72b0"/>
<circle cx="1570.22" cy="452.10" r="16.46" fill="#c44e52"/>
<path d="M1570.22,452.10L1570.22,435.64A16.46,16.46 0 0 1 1570.22,468.56Z" fill="#4c72b0"/>
<circle cx="1629.69" cy="452.10" r="9.50" fill="#c44e52"/>
<path d="M1629.69,452.10L1629.69,442.60A9.50,9.50 0 0 1 1629.69,461.60Z" fill="#4c72b0"/>
<circle cx="1689.16" cy="452.10" r="19.01" fill="#c44e52"/>
<path d="M1689.16,452.10L1689.16,433.09A19.01,19.01 0 1 1 1675.72,438.66Z" fill="#4c72b0"/>
<circle cx="1748.63" cy="452.10" r="16.46" fill="#c44e52"/>
<path d="M1748.63,452.10L1748.63,435.64A16.46,16.46 0 0 1 1748.63,468.56Z" fill="#4c72b0"/>
<circle cx="1808.10" cy="452.10" r="13.44" fill="#c44e52"/>
<path d="M1808.10,452.10L1808.10,438.66A13.44,13.44 0 0 1 1821.54,452.10Z" fill="#4c72b0"/>
<circle cx="1867.57" cy="452.10" r="17.78" fill="#c44e52"/>
<path d="M1867.57,452.10L1867.57,434.32A17.78,17.78 0 0 1 1884.90,456.06Z" fill="#4c72b0"/>
<circle cx="1927.04" cy="452.10" r="11.64" fill="#c44e52"/>
<circle cx="1986.51" cy="452.10" r="11.64" fill="#c44e52"/>
<path d="M1986.51,452.10L1986.51,440.46A11.64,11.64 0 0 1 1996.59,457.92Z" fill="#4c72b0"/>
<circle cx="2045.98" cy="452.10" r="16.46" fill="#c44e52"/>
<path d="M2045.98,452.10L2045.98,435.64A16.46,16.46 0 0 1 2060.24,460.33Z" fill="#4c72b0"/>
<circle cx="1213.40" cy="511.54" r="11.64" fill="#c44e52"/>
<circle cx="1272.87" cy="511.54" r="9.50" fill="#c44e52"/>
<circle cx="1332.34" cy="511.54" r="13.44" fill="#c44e52"/>
<circle cx="1391.81" cy="511.54" r="6.72" fill="#c44e52"/>
<circle cx="1451.28" cy="511.54" r="15.03" fill="#c44e52"/>
<path d="M1451.28,511.54L1451.28,496.51A15.03,15.03 0 0 1 1460.11,523.70Z" fill="#4c72b0"/>
<circle cx="1510.75" cy="511.54" r="15.03" fill="#c44e52"/>
<path d="M1510.75,511.54L1510.75,496.51A15.03,15.03 0 0 1 1525.04,506.90Z" fill="#4c72b0"/>
<circle cx="1629.69" cy="511.54" r="6.72" fill="#c44e52"/>
<circle cx="1689.16" cy="511.54" r="15.03" fill="#c44e52"/>
<path d="M1689.16,511.54L1689.16,496.51A15.03,15.03 0 1 1 1674.87,506.90Z" fill="#4c72b0"/>
<circle cx="1748.63" cy="511.54" r="19.01" fill="#c44e52"/>
<path d="M1748.63,511.54L1748.63,492.53A19.01,19.01 0 0 1 1762.07,498.10Z" fill="#4c72b0"/>
<circle cx="1808.10" cy="511.54" r="13.44" fill="#c44e52"/>
<path d="M1808.10,511.54L1808.10,498.10A13.44,13.44 0 0 1 1821.54,511.54Z" fill="#4c72b0"/>
<circle cx="1867.57" cy="511.54" r="16.46" fill="#c44e52"/>
<circle cx="1927.04" cy="511.54" r="11.64" fill="#c44e52"/>
<circle cx="1986.51" cy="511.54" r="20.16" fill="#c44e52"/>
<path d="M1986.51,511.54L1986.51,491.38A20.16,20.16 0 0 1 1999.47,496.10Z" fill="#4c72b0"/>
<circle cx="2045.98" cy="511.54" r="11.64" fill="#c44e52"/>
<circle cx="1213.40" cy="570.98" r="11.64" fill="#4c72b0"/>
<circle cx="1272.87" cy="570.98" r="13.44" fill="#c44e52"/>
<path d="M1272.87,570.98L1272.87,557.54A13.44,13.44 0 1 1 1259.43,570.98Z" fill="#4c72b0"/>
<circle cx="1451.28" cy="570.98" r="13.44" fill="#4c72b0"/>
<circle cx="1510.75" cy="570.98" r="15.03" fill="#c44e52"/>
<circle cx="1570.22" cy="570.98" r="16.46" fill="#c44e52"/>
<path d="M1570.22,570.98L1570.22,554.52A16.46,16.46 0 0 1 1584.48,579.21Z" fill="#4c72b0"/>
<circle cx="1689.16" cy="570.98" r="6.72" fill="#c44e52"/>
<circle cx="1748.63" cy="570.98" r="19.01" fill="#4c72b0"/>
<circle cx="1808.10" cy="570.98" r="6.72" fill="#c44e52"/>
<circle cx="1867.57" cy="570.98" r="6.72" fill="#c44e52"/>
<circle cx="1927.04" cy="570.98" r="11.64" fill="#c44e52"/>
<circle cx="1986.51" cy="570.98" r="17.78" fill="#c44e52"/>
<circle cx="2045.98" cy="570.98" r="11.64" fill="#c44e52"/>
<circle cx="1213.40" cy="630.42" r="22.29" fill="#c44e52"/>
<path d="M1213.40,630.42L1213.40,608.13A22.29,22.29 0 1 1 1191.34,633.59Z" fill="#4c72b0"/>
<circle cx="1272.87" cy="630.42" r="29.29" fill="#c44e52"/>
<path d="M1272.87,630.42L1272.87,601.13A29.29,29.29 0 1 1 1244.47,623.23Z" fill="#4c72b0"/>
<circle cx="1332.34" cy="630.42" r="27.71" fill="#c44e52"/>
<path d="M1332.34,630.42L1332.34,602.71A27.71,27.71 0 1 1 1305.69,638.00Z" fill="#4c72b0"/>
<circle cx="1391.81" cy="630.42" r="19.01" fill="#c44e52"/>
<path d="M1391.81,630.42L1391.81,611.41A19.01,19.01 0 0 1 1405.25,616.98Z" fill="#4c72b0"/>
<circle cx="1451.28" cy="630.42" r="21.25" fill="#c44e52"/>
<path d="M1451.28,630.42L1451.28,609.17A21.25,21.25 0 1 1 1438.79,613.23Z" fill="#4c72b0"/>
<circle cx="1510.75" cy="630.42" r="27.71" fill="#c44e52"/>
<path d="M1510.75,630.42L1510.75,602.71A27.71,27.71 0 0 1 1525.34,653.98Z" fill="#4c72b0"/>
<circle cx="1570.22" cy="630.42" r="30.05" fill="#c44e52"/>
<path d="M1570.22,630.42L1570.22,600.37A30.05,30.05 0 0 1 1587.88,654.73Z" fill="#4c72b0"/>
<circle cx="1629.69" cy="630.42" r="29.29" fill="#c44e52"/>
<path d="M1629.69,630.42L1629.69,601.13A29.29,29.29 0 0 1 1656.51,642.19Z" fill="#4c72b0"/>
<circle cx="1748.63" cy="630.42" r="23.28" fill="#c44e52"/>
<path d="M1748.63,630.42L1748.63,607.14A23.28,23.28 0 1 1 1725.35,630.42Z" fill="#4c72b0"/>
<circle cx="1808.10" cy="630.42" r="23.28" fill="#c44e52"/>
<path d="M1808.10,630.42L1808.10,607.14A23.28,23.28 0 1 1 1796.46,650.58Z" fill="#4c72b0"/>
<circle cx="1867.57" cy="630.42" r="28.51" fill="#c44e52"/>
<path d="M1867.57,630.42L1867.57,601.91A28.51,28.51 0 0 1 1895.65,635.37Z" fill="#4c72b0"/>
<circle cx="1927.04" cy="630.42" r="25.14" fill="#c44e52"/>
<path d="M1927.04,630.42L1927.04,605.28A25.14,25.14 0 0 1 1937.95,653.07Z" fill="#4c72b0"/>
<circle cx="1986.51" cy="630.42" r="32.92" fill="#c44e52"/>
<path d="M1986.51,630.42L1986.51,597.50A32.92,32.92 0 0 1 2015.02,646.88Z" fill="#4c72b0"/>
<circle cx="2045.98" cy="630.42" r="32.23" fill="#c44e52"/>
<path d="M2045.98,630.42L2045.98,598.19A32.23,32.23 0 0 1 2077.53,623.86Z" fill="#4c72b0"/>
<circle cx="1213.40" cy="689.86" r="6.72" fill="#4c72b0"/>
<circle cx="1272.87" cy="689.86" r="9.50" fill="#4c72b0"/>
<circle cx="1332.34" cy="689.86" r="16.46" fill="#4c72b0"/>
<circle cx="1391.81" cy="689.86" r="21.25" fill="#c44e52"/>
<path d="M1391.81,689.86L1391.81,668.61A21.25,21.25 0 1 1 1379.32,672.67Z" fill="#4c72b0"/>
<circle cx="1451.28" cy="689.86" r="16.46" fill="#4c72b0"/>
<circle cx="1510.75" cy="689.86" r="22.29" fill="#c44e52"/>
<path d="M1510.75,689.86L1510.75,667.57A22.29,22.29 0 1 1 1498.70,671.11Z" fill="#4c72b0"/>
<circle cx="1570.22" cy="689.86" r="22.29" fill="#c44e52"/>
<path d="M1570.22,689.86L1570.22,667.57A22.29,22.29 0 1 1 1553.38,704.46Z" fill="#4c72b0"/>
<circle cx="1629.69" cy="689.86" r="15.03" fill="#4c72b0"/>
<circle cx="1689.16" cy="689.86" r="16.46" fill="#c44e52"/>
<path d="M1689.16,689.86L1689.16,673.40A16.46,16.46 0 1 1 1674.90,698.09Z" fill="#4c72b0"/>
<circle cx="1808.10" cy="689.86" r="16.46" fill="#c44e52"/>
<path d="M1808.10,689.86L1808.10,673.40A16.46,16.46 0 1 1 1793.84,681.63Z" fill="#4c72b0"/>
<circle cx="1867.57" cy="689.86" r="19.01" fill="#c44e52"/>
<path d="M1867.57,689.86L1867.57,670.85A19.01,19.01 0 1 1 1854.13,676.42Z" fill="#4c72b0"/>
<circle cx="1927.04" cy="689.86" r="11.64" fill="#4c72b0"/>
<circle cx="1986.51" cy="689.86" r="19.01" fill="#4c72b0"/>
<circle cx="2045.98" cy="689.86" r="13.44" fill="#c44e52"/>
<path d="M2045.98,689.86L2045.98,676.42A13.44,13.44 0 0 1 2059.42,689.86Z" fill="#4c72b0"/>
<circle cx="1213.40" cy="749.30" r="19.01" fill="#c44e52"/>
<path d="M1213.40,749.30L1213.40,730.29A19.01,19.01 0 1 1 1194.39,749.30Z" fill="#4c72b0"/>
<circle cx="1272.87" cy="749.30" r="17.78" fill="#c44e52"/>
<path d="M1272.87,749.30L1272.87,731.52A17.78,17.78 0 1 1 1258.97,738.21Z" fill="#4c72b0"/>
<circle cx="1332.34" cy="749.30" r="9.50" fill="#4c72b0"/>
<circle cx="1391.81" cy="749.30" r="15.03" fill="#c44e52"/>
<path d="M1391.81,749.30L1391.81,734.27A15.03,15.03 0 1 1 1377.52,744.66Z" fill="#4c72b0"/>
<circle cx="1451.28" cy="749.30" r="13.44" fill="#4c72b0"/>
<circle cx="1510.75" cy="749.30" r="13.44" fill="#c44e52"/>
<path d="M1510.75,749.30L1510.75,735.86A13.44,13.44 0 0 1 1510.75,762.74Z" fill="#4c72b0"/>
<circle cx="1570.22" cy="749.30" r="9.50" fill="#c44e52"/>
<path d="M1570.22,749.30L1570.22,739.80A9.50,9.50 0 0 1 1570.22,758.80Z" fill="#4c72b0"/>
<circle cx="1629.69" cy="749.30" r="13.44" fill="#c44e52"/>
<path d="M1629.69,749.30L1629.69,735.86A13.44,13.44 0 0 1 1643.13,749.30Z" fill="#4c72b0"/>
<circle cx="1689.16" cy="749.30" r="11.64" fill="#4c72b0"/>
<circle cx="1748.63" cy="749.30" r="15.03" fill="#c44e52"/>
<path d="M1748.63,749.30L1748.63,734.27A15.03,15.03 0 1 1 1734.34,744.66Z" fill="#4c72b0"/>
<circle cx="1867.57" cy="749.30" r="6.72" fill="#4c72b0"/>
<circle cx="1986.51" cy="749.30" r="6.72" fill="#c44e52"/>
<circle cx="2045.98" cy="749.30" r="19.01" fill="#c44e52"/>
<path d="M2045.98,749.30L2045.98,730.29A19.01,19.01 0 0 1 2059.42,762.74Z" fill="#4c72b0"/>
<circle cx="1213.40" cy="808.74" r="11.64" fill="#4c72b0"/>
<circle cx="1272.87" cy="808.74" r="13.44" fill="#4c72b0"/>
<circle cx="1332.34" cy="808.74" r="6.72" fill="#4c72b0"/>
<circle cx="1391.81" cy="808.74" r="13.44" fill="#4c72b0"/>
<circle cx="1451.28" cy="808.74" r="16.46" fill="#4c72b0"/>
<circle cx="1510.75" cy="808.74" r="15.03" fill="#c44e52"/>
<path d="M1510.75,808.74L1510.75,793.71A15.03,15.03 0 1 1 1501.92,820.90Z" fill="#4c72b0"/>
<circle cx="1570.22" cy="808.74" r="15.03" fill="#c44e52"/>
<path d="M1570.22,808.74L1570.22,793.71A15.03,15.03 0 1 1 1561.39,820.90Z" fill="#4c72b0"/>
<circle cx="1748.63" cy="808.74" r="6.72" fill="#4c72b0"/>
<circle cx="1808.10" cy="808.74" r="16.46" fill="#c44e52"/>
<path d="M1808.10,808.74L1808.10,792.28A16.46,16.46 0 0 1 1822.36,800.51Z" fill="#4c72b0"/>
<circle cx="1927.04" cy="808.74" r="9.50" fill="#c44e52"/>
<path d="M1927.04,808.74L1927.04,799.24A9.50,9.50 0 0 1 1927.04,818.24Z" fill="#4c72b0"/>
<circle cx="1986.51" cy="808.74" r="11.64" fill="#4c72b0"/>
<circle cx="2045.98" cy="808.74" r="6.72" fill="#c44e52"/>
<circle cx="1213.40" cy="868.18" r="17.78" fill="#c44e52"/>
<path d="M1213.40,868.18L1213.40,850.40A17.78,17.78 0 1 1 1205.69,884.20Z" fill="#4c72b0"/>
<circle cx="1272.87" cy="868.18" r="15.03" fill="#4c72b0"/>
<circle cx="1332.34" cy="868.18" r="9.50" fill="#4c72b0"/>
<circle cx="1391.81" cy="868.18" r="11.64" fill="#c44e52"/>
<path d="M1391.81,868.18L1391.81,856.54A11.64,11.64 0 0 1 1401.89,874.00Z" fill="#4c72b0"/>
<circle cx="1451.28" cy="868.18" r="16.46" fill="#4c72b0"/>
<circle cx="1510.75" cy="868.18" r="13.44" fill="#c44e52"/>
<path d="M1510.75,868.18L1510.75,854.74A13.44,13.44 0 0 1 1524.19,868.18Z" fill="#4c72b0"/>
<circle cx="1570.22" cy="868.18" r="15.03" fill="#c44e52"/>
<path d="M1570.22,868.18L1570.22,853.15A15.03,15.03 0 0 1 1584.51,863.54Z" fill="#4c72b0"/>
<circle cx="1629.69" cy="868.18" r="11.64" fill="#4c72b0"/>
<circle cx="1689.16" cy="868.18" r="11.64" fill="#c44e52"/>
<path d="M1689.16,868.18L1689.16,856.54A11.64,11.64 0 1 1 1679.08,874.00Z" fill="#4c72b0"/>
<circle cx="1748.63" cy="868.18" r="15.03" fill="#c44e52"/>
<path d="M1748.63,868.18L1748.63,853.15A15.03,15.03 0 0 1 1757.46,880.34Z" fill="#4c72b0"/>
<circle cx="1808.10" cy="868.18" r="13.44" fill="#c44e52"/>
<path d="M1808.10,868.18L1808.10,854.74A13.44,13.44 0 0 1 1821.54,868.18Z" fill="#4c72b0"/>
<circle cx="1867.57" cy="868.18" r="11.64" fill="#c44e52"/>
<path d="M1867.57,868.18L1867.57,856.54A11.64,11.64 0 0 1 1877.65,874.00Z" fill="#4c72b0"/>
<circle cx="1986.51" cy="868.18" r="13.44" fill="#c44e52"/>
<path d="M1986.51,868.18L1986.51,854.74A13.44,13.44 0 1 1 1973.07,868.18Z" fill="#4c72b0"/>
<circle cx="2045.98" cy="868.18" r="9.50" fill="#c44e52"/>
<circle cx="1213.40" cy="927.62" r="6.72" fill="#4c72b0"/>
<circle cx="1272.87" cy="927.62" r="6.72" fill="#4c72b0"/>
<circle cx="1332.34" cy="927.62" r="11.64" fill="#c44e52"/>
<path d="M1332.34,927.62L1332.34,915.98A11.64,11.64 0 0 1 1342.42,933.44Z" fill="#4c72b0"/>
<circle cx="1391.81" cy="927.62" r="9.50" fill="#c44e52"/>
<path d="M1391.81,927.62L1391.81,918.12A9.50,9.50 0 0 1 1391.81,937.12Z" fill="#4c72b0"/>
<circle cx="1510.75" cy="927.62" r="9.50" fill="#4c72b0"/>
<circle cx="1629.69" cy="927.62" r="9.50" fill="#c44e52"/>
<path d="M1629.69,927.62L1629.69,918.12A9.50,9.50 0 0 1 1629.69,937.12Z" fill="#4c72b0"/>
<circle cx="1689.16" cy="927.62" r="16.46" fill="#c44e52"/>
<circle cx="1748.63" cy="927.62" r="9.50" fill="#c44e52"/>
<path d="M1748.63,927.62L1748.63,918.12A9.50,9.50 0 0 1 1748.63,937.12Z" fill="#4c72b0"/>
<circle cx="1808.10" cy="927.62" r="9.50" fill="#c44e52"/>
<path d="M1808.10,927.62L1808.10,918.12A9.50,9.50 0 0 1 1808.10,937.12Z" fill="#4c72b0"/>
<circle cx="1867.57" cy="927.62" r="9.50" fill="#c44e52"/>
<circle cx="1927.04" cy="927.62" r="11.64" fill="#c44e52"/>
<path d="M1927.04,927.62L1927.04,915.98A11.64,11.64 0 1 1 1916.96,933.44Z" fill="#4c72b0"/>
<circle cx="2045.98" cy="927.62" r="15.03" fill="#c44e52"/>
<path d="M2045.98,927.62L2045.98,912.59A15.03,15.03 0 0 1 2054.81,939.78Z" fill="#4c72b0"/>
<circle cx="1213.40" cy="987.06" r="9.50" fill="#c44e52"/>
<path d="M1213.40,987.06L1213.40,977.56A9.50,9.50 0 0 1 1213.40,996.56Z" fill="#4c72b0"/>
<circle cx="1272.87" cy="987.06" r="9.50" fill="#c44e52"/>
<path d="M1272.87,987.06L1272.87,977.56A9.50,9.50 0 0 1 1272.87,996.56Z" fill="#4c72b0"/>
<circle cx="1391.81" cy="987.06" r="9.50" fill="#c44e52"/>
<path d="M1391.81,987.06L1391.81,977.56A9.50,9.50 0 0 1 1391.81,996.56Z" fill="#4c72b0"/>
<circle cx="1451.28" cy="987.06" r="6.72" fill="#c44e52"/>
<circle cx="1510.75" cy="987.06" r="9.50" fill="#c44e52"/>
<path d="M1510.75,987.06L1510.75,977.56A9.50,9.50 0 0 1 1510.75,996.56Z" fill="#4c72b0"/>
<circle cx="1570.22" cy="987.06" r="11.64" fill="#c44e52"/>
<path d="M1570.22,987.06L1570.22,975.42A11.64,11.64 0 1 1 1560.14,992.88Z" fill="#4c72b0"/>
<circle cx="1689.16" cy="987.06" r="9.50" fill="#c44e52"/>
<path d="M1689.16,987.06L1689.16,977.56A9.50,9.50 0 0 1 1689.16,996.56Z" fill="#4c72b0"/>
<circle cx="1748.63" cy="987.06" r="11.64" fill="#c44e52"/>
<path d="M1748.63,987.06L1748.63,975.42A11.64,11.64 0 0 1 1758.71,992.88Z" fill="#4c72b0"/>
<circle cx="1808.10" cy="987.06" r="9.50" fill="#c44e52"/>
<path d="M1808.10,987.06L1808.10,977.56A9.50,9.50 0 0 1 1808.10,996.56Z" fill="#4c72b0"/>
<circle cx="1867.57" cy="987.06" r="11.64" fill="#c44e52"/>
<path d="M1867.57,987.06L1867.57,975.42A11.64,11.64 0 0 1 1877.65,992.88Z" fill="#4c72b0"/>
<circle cx="1927.04" cy="987.06" r="9.50" fill="#c44e52"/>
<circle cx="1986.51" cy="987.06" r="6.72" fill="#c44e52"/>
<text transform="translate(1061.76,41.20)" font-size="47.5" font-weight="bold" font-style="normal" fill="#111" textLength="29.51" lengthAdjust="spacingAndGlyphs">b</text>
<text transform="translate(1444.02,31.10)" font-size="40.2" font-weight="normal" font-style="normal" fill="#222" textLength="319.34" lengthAdjust="spacingAndGlyphs">ABC Transporters</text>
<text transform="translate(1531.66,91.50)" font-size="29.7" font-weight="normal" font-style="normal" fill="#222" textLength="206.40" lengthAdjust="spacingAndGlyphs">Partner species</text>
<text transform="translate(1138.80,675.22) rotate(-90)" font-size="29.5" font-weight="normal" font-style="normal" fill="#222" textLength="201.68" lengthAdjust="spacingAndGlyphs">Protein species</text>
<text transform="translate(1213.10,130.60) rotate(-90)" font-size="22.6" font-weight="normal" font-style="normal" fill="#222" textLength="20.78" lengthAdjust="spacingAndGlyphs">Bt</text>
<text transform="translate(1161.87,158.50)" font-size="22.6" font-weight="normal" font-style="normal" fill="#222" textLength="21.99" lengthAdjust="spacingAndGlyphs">Bt</text>
<text transform="translate(1272.57,130.60) rotate(-90)" font-size="22.6" font-weight="normal" font-style="normal" fill="#222" textLength="26.90" lengthAdjust="spacingAndGlyphs">Bu</text>
<text transform="translate(1156.77,217.94)" font-size="22.6" font-weight="normal" font-style="normal" fill="#222" textLength="28.47" lengthAdjust="spacingAndGlyphs">Bu</text>
<text transform="translate(1332.04,130.60) rotate(-90)" font-size="22.6" font-weight="normal" font-style="normal" fill="#222" textLength="25.66" lengthAdjust="spacingAndGlyphs">Pv</text>
<text transform="translate(1156.60,277.38)" font-size="22.6" font-weight="normal" font-style="normal" fill="#222" textLength="27.17" lengthAdjust="spacingAndGlyphs">Pv</text>
<text transform="translate(1391.51,130.60) rotate(-90)" font-size="22.6" font-weight="normal" font-style="normal" fill="#222" textLength="32.99" lengthAdjust="spacingAndGlyphs">Pm</text>
<text transform="translate(1150.30,336.82)" font-size="22.6" font-weight="normal" font-style="normal" fill="#222" textLength="34.92" lengthAdjust="spacingAndGlyphs">Pm</text>
<text transform="translate(1450.98,129.79) rotate(-90)" font-size="22.6" font-weight="normal" font-style="normal" fill="#222" textLength="25.66" lengthAdjust="spacingAndGlyphs">Sc</text>
<text transform="translate(1157.14,396.26)" font-size="22.6" font-weight="normal" font-style="normal" fill="#222" textLength="27.17" lengthAdjust="spacingAndGlyphs">Sc</text>
<text transform="translate(1510.45,130.60) rotate(-90)" font-size="22.6" font-weight="normal" font-style="normal" fill="#222" textLength="26.90" lengthAdjust="spacingAndGlyphs">Ka</text>
<text transform="translate(1155.21,455.70)" font-size="22.6" font-weight="normal" font-style="normal" fill="#222" textLength="28.47" lengthAdjust="spacingAndGlyphs">Ka</text>
<text transform="translate(1569.92,130.60) rotate(-90)" font-size="22.6" font-weight="normal" font-style="normal" fill="#222" textLength="25.66" lengthAdjust="spacingAndGlyphs">Ec</text>
<text transform="translate(1157.14,515.14)" font-size="22.6" font-weight="normal" font-style="normal" fill="#222" textLength="27.17" lengthAdjust="spacingAndGlyphs">Ec</text>
<text transform="translate(1629.39,130.60) rotate(-90)" font-size="22.6" font-weight="normal" font-style="normal" fill="#222" textLength="28.11" lengthAdjust="spacingAndGlyphs">Rg</text>
<text transform="translate(1155.44,574.58)" font-size="22.6" font-weight="normal" font-style="normal" fill="#222" textLength="29.76" lengthAdjust="spacingAndGlyphs">Rg</text>
<text transform="translate(1688.86,130.60) rotate(-90)" font-size="22.6" font-weight="normal" font-style="normal" fill="#222" textLength="23.22" lengthAdjust="spacingAndGlyphs">Ls</text>
<text transform="translate(1159.96,634.02)" font-size="22.6" font-weight="normal" font-style="normal" fill="#222" textLength="24.59" lengthAdjust="spacingAndGlyphs">Ls</text>
<text transform="translate(1748.33,128.84) rotate(-90)" font-size="22.6" font-weight="normal" font-style="normal" fill="#222" textLength="21.99" lengthAdjust="spacingAndGlyphs">Ar</text>
<text transform="translate(1160.79,693.46)" font-size="22.6" font-weight="normal" font-style="normal" fill="#222" textLength="23.28" lengthAdjust="spacingAndGlyphs">Ar</text>
<text transform="translate(1807.80,129.90) rotate(-90)" font-size="22.6" font-weight="normal" font-style="normal" fill="#222" textLength="26.88" lengthAdjust="spacingAndGlyphs">Cs</text>
<text transform="translate(1156.09,752.90)" font-size="22.6" font-weight="normal" font-style="normal" fill="#222" textLength="28.45" lengthAdjust="spacingAndGlyphs">Cs</text>
<text transform="translate(1867.27,129.90) rotate(-90)" font-size="22.6" font-weight="normal" font-style="normal" fill="#222" textLength="28.11" lengthAdjust="spacingAndGlyphs">Cd</text>
<text transform="translate(1155.44,812.34)" font-size="22.6" font-weight="normal" font-style="normal" fill="#222" textLength="29.76" lengthAdjust="spacingAndGlyphs">Cd</text>
<text transform="translate(1926.74,130.60) rotate(-90)" font-size="22.6" font-weight="normal" font-style="normal" fill="#222" textLength="24.46" lengthAdjust="spacingAndGlyphs">La</text>
<text transform="translate(1157.79,871.78)" font-size="22.6" font-weight="normal" font-style="normal" fill="#222" textLength="25.89" lengthAdjust="spacingAndGlyphs">La</text>
<text transform="translate(1986.21,130.60) rotate(-90)" font-size="22.6" font-weight="normal" font-style="normal" fill="#222" textLength="24.46" lengthAdjust="spacingAndGlyphs">Lg</text>
<text transform="translate(1159.30,931.22)" font-size="22.6" font-weight="normal" font-style="normal" fill="#222" textLength="25.89" lengthAdjust="spacingAndGlyphs">Lg</text>
<text transform="translate(2045.68,129.90) rotate(-90)" font-size="22.6" font-weight="normal" font-style="normal" fill="#222" textLength="28.11" lengthAdjust="spacingAndGlyphs">Ca</text>
<text transform="translate(1153.93,990.66)" font-size="22.6" font-weight="normal" font-style="normal" fill="#222" textLength="29.76" lengthAdjust="spacingAndGlyphs">Ca</text>
<rect x="33.30" y="1113.50" width="43.55" height="52.62" fill="#d1d1e9"/>
<rect x="76.55" y="1113.50" width="43.55" height="52.62" fill="#f6b3b6"/>
<rect x="119.80" y="1113.50" width="43.55" height="52.62" fill="#afafd9"/>
<rect x="163.05" y="1113.50" width="43.55" height="52.62" fill="#ffffff"/>
<rect x="206.30" y="1113.50" width="43.55" height="52.62" fill="#f8c6c8"/>
<rect x="249.55" y="1113.50" width="43.55" height="52.62" fill="#b2b2b2"/>
<rect x="292.80" y="1113.50" width="43.55" height="52.62" fill="#3450a4"/>
<rect x="336.05" y="1113.50" width="43.55" height="52.62" fill="#3450a4"/>
<rect x="379.30" y="1113.50" width="43.55" height="52.62" fill="#3852a5"/>
<rect x="422.55" y="1113.50" width="43.55" height="52.62" fill="#3450a4"/>
<rect x="465.80" y="1113.50" width="43.55" height="52.62" fill="#7476bc"/>
<rect x="509.05" y="1113.50" width="43.55" height="52.62" fill="#aaaad6"/>
<rect x="552.30" y="1113.50" width="43.55" height="52.62" fill="#3450a4"/>
<rect x="595.55" y="1113.50" width="43.55" height="52.62" fill="#4456a9"/>
<rect x="33.30" y="1165.82" width="43.55" height="52.62" fill="#e6e6f3"/>
<rect x="76.55" y="1165.82" width="43.55" height="52.62" fill="#f9ccce"/>
<rect x="119.80" y="1165.82" width="43.55" height="52.62" fill="#c0c0e1"/>
<rect x="163.05" y="1165.82" width="43.55" height="52.62" fill="#fce6e7"/>
<rect x="206.30" y="1165.82" width="43.55" height="52.62" fill="#ffffff"/>
<rect x="249.55" y="1165.82" width="43.55" height="52.62" fill="#b2b2b2"/>
<rect x="292.80" y="1165.82" width="43.55" height="52.62" fill="#3450a4"/>
<rect x="336.05" y="1165.82" width="43.55" height="52.62" fill="#3450a4"/>
<rect x="379.30" y="1165.82" width="43.55" height="52.62" fill="#3450a4"/>
<rect x="422.55" y="1165.82" width="43.55" height="52.62" fill="#3450a4"/>
<rect x="465.80" y="1165.82" width="43.55" height="52.62" fill="#e0e0f0"/>
<rect x="509.05" y="1165.82" width="43.55" height="52.62" fill="#8384c4"/>
<rect x="552.30" y="1165.82" width="43.55" height="52.62" fill="#6164b2"/>
<rect x="595.55" y="1165.82" width="43.55" height="52.62" fill="#4055a8"/>
<rect x="33.30" y="1218.14" width="43.55" height="52.62" fill="#ffffff"/>
<rect x="76.55" y="1218.14" width="43.55" height="52.62" fill="#f1f1f9"/>
<rect x="119.80" y="1218.14" width="43.55" height="52.62" fill="#e0e0f0"/>
<rect x="163.05" y="1218.14" width="43.55" height="52.62" fill="#fbdfe0"/>
<rect x="206.30" y="1218.14" width="43.55" height="52.62" fill="#d9d9ed"/>
<rect x="249.55" y="1218.14" width="43.55" height="52.62" fill="#3450a4"/>
<rect x="292.80" y="1218.14" width="43.55" height="52.62" fill="#3450a4"/>
<rect x="336.05" y="1218.14" width="43.55" height="52.62" fill="#505bac"/>
<rect x="379.30" y="1218.14" width="43.55" height="52.62" fill="#3c53a6"/>
<rect x="422.55" y="1218.14" width="43.55" height="52.62" fill="#9898ce"/>
<rect x="465.80" y="1218.14" width="43.55" height="52.62" fill="#b5b5dc"/>
<rect x="509.05" y="1218.14" width="43.55" height="52.62" fill="#8d8dc9"/>
<rect x="552.30" y="1218.14" width="43.55" height="52.62" fill="#8d8dc9"/>
<rect x="595.55" y="1218.14" width="43.55" height="52.62" fill="#a4a4d4"/>
<rect x="33.30" y="1270.46" width="43.55" height="52.62" fill="#cfcfe8"/>
<rect x="76.55" y="1270.46" width="43.55" height="52.62" fill="#f29397"/>
<rect x="119.80" y="1270.46" width="43.55" height="52.62" fill="#ddddef"/>
<rect x="163.05" y="1270.46" width="43.55" height="52.62" fill="#fdeced"/>
<rect x="206.30" y="1270.46" width="43.55" height="52.62" fill="#fce9ea"/>
<rect x="249.55" y="1270.46" width="43.55" height="52.62" fill="#3450a4"/>
<rect x="292.80" y="1270.46" width="43.55" height="52.62" fill="#3450a4"/>
<rect x="336.05" y="1270.46" width="43.55" height="52.62" fill="#3852a5"/>
<rect x="379.30" y="1270.46" width="43.55" height="52.62" fill="#505bac"/>
<rect x="422.55" y="1270.46" width="43.55" height="52.62" fill="#bbbbdf"/>
<rect x="465.80" y="1270.46" width="43.55" height="52.62" fill="#fef2f3"/>
<rect x="509.05" y="1270.46" width="43.55" height="52.62" fill="#fce3e4"/>
<rect x="552.30" y="1270.46" width="43.55" height="52.62" fill="#f1f1f9"/>
<rect x="595.55" y="1270.46" width="43.55" height="52.62" fill="#aaaad6"/>
<rect x="33.30" y="1322.78" width="43.55" height="52.62" fill="#b2b2b2"/>
<rect x="76.55" y="1322.78" width="43.55" height="52.62" fill="#4c5aab"/>
<rect x="119.80" y="1322.78" width="43.55" height="52.62" fill="#3450a4"/>
<rect x="163.05" y="1322.78" width="43.55" height="52.62" fill="#6164b2"/>
<rect x="206.30" y="1322.78" width="43.55" height="52.62" fill="#f6b0b3"/>
<rect x="249.55" y="1322.78" width="43.55" height="52.62" fill="#b2b2b2"/>
<rect x="292.80" y="1322.78" width="43.55" height="52.62" fill="#b2b2b2"/>
<rect x="336.05" y="1322.78" width="43.55" height="52.62" fill="#b2b2b2"/>
<rect x="379.30" y="1322.78" width="43.55" height="52.62" fill="#fce6e7"/>
<rect x="422.55" y="1322.78" width="43.55" height="52.62" fill="#b2b2b2"/>
<rect x="465.80" y="1322.78" width="43.55" height="52.62" fill="#8d8dc9"/>
<rect x="509.05" y="1322.78" width="43.55" height="52.62" fill="#7072ba"/>
<rect x="552.30" y="1322.78" width="43.55" height="52.62" fill="#b2b2b2"/>
<rect x="595.55" y="1322.78" width="43.55" height="52.62" fill="#8d8dc9"/>
<rect x="33.30" y="1375.10" width="43.55" height="52.62" fill="#f9cfd1"/>
<rect x="76.55" y="1375.10" width="43.55" height="52.62" fill="#b2b2b2"/>
<rect x="119.80" y="1375.10" width="43.55" height="52.62" fill="#f9cacc"/>
<rect x="163.05" y="1375.10" width="43.55" height="52.62" fill="#ffffff"/>
<rect x="206.30" y="1375.10" width="43.55" height="52.62" fill="#f4a0a4"/>
<rect x="249.55" y="1375.10" width="43.55" height="52.62" fill="#f18a8f"/>
<rect x="292.80" y="1375.10" width="43.55" height="52.62" fill="#c0c0e1"/>
<rect x="336.05" y="1375.10" width="43.55" height="52.62" fill="#f9c8cb"/>
<rect x="379.30" y="1375.10" width="43.55" height="52.62" fill="#fad6d8"/>
<rect x="422.55" y="1375.10" width="43.55" height="52.62" fill="#4456a9"/>
<rect x="465.80" y="1375.10" width="43.55" height="52.62" fill="#9090cb"/>
<rect x="509.05" y="1375.10" width="43.55" height="52.62" fill="#b2b2b2"/>
<rect x="552.30" y="1375.10" width="43.55" height="52.62" fill="#b2b2b2"/>
<rect x="595.55" y="1375.10" width="43.55" height="52.62" fill="#b2b2b2"/>
<rect x="33.30" y="1427.42" width="43.55" height="52.62" fill="#ececf6"/>
<rect x="76.55" y="1427.42" width="43.55" height="52.62" fill="#c0c0e1"/>
<rect x="119.80" y="1427.42" width="43.55" height="52.62" fill="#fce6e7"/>
<rect x="163.05" y="1427.42" width="43.55" height="52.62" fill="#cccce7"/>
<rect x="206.30" y="1427.42" width="43.55" height="52.62" fill="#dfdff0"/>
<rect x="249.55" y="1427.42" width="43.55" height="52.62" fill="#9c9cd0"/>
<rect x="292.80" y="1427.42" width="43.55" height="52.62" fill="#c9c9e6"/>
<rect x="336.05" y="1427.42" width="43.55" height="52.62" fill="#f6b7b9"/>
<rect x="379.30" y="1427.42" width="43.55" height="52.62" fill="#fbdbdd"/>
<rect x="422.55" y="1427.42" width="43.55" height="52.62" fill="#7072ba"/>
<rect x="465.80" y="1427.42" width="43.55" height="52.62" fill="#797bbf"/>
<rect x="509.05" y="1427.42" width="43.55" height="52.62" fill="#6e70b9"/>
<rect x="552.30" y="1427.42" width="43.55" height="52.62" fill="#9090cb"/>
<rect x="595.55" y="1427.42" width="43.55" height="52.62" fill="#7779be"/>
<rect x="33.30" y="1479.74" width="43.55" height="52.62" fill="#fbddde"/>
<rect x="76.55" y="1479.74" width="43.55" height="52.62" fill="#fad5d7"/>
<rect x="119.80" y="1479.74" width="43.55" height="52.62" fill="#f9c8cb"/>
<rect x="163.05" y="1479.74" width="43.55" height="52.62" fill="#f3999d"/>
<rect x="206.30" y="1479.74" width="43.55" height="52.62" fill="#fdeced"/>
<rect x="249.55" y="1479.74" width="43.55" height="52.62" fill="#b7b7dd"/>
<rect x="292.80" y="1479.74" width="43.55" height="52.62" fill="#fbdedf"/>
<rect x="336.05" y="1479.74" width="43.55" height="52.62" fill="#fce3e4"/>
<rect x="379.30" y="1479.74" width="43.55" height="52.62" fill="#ffffff"/>
<rect x="422.55" y="1479.74" width="43.55" height="52.62" fill="#a7a7d5"/>
<rect x="465.80" y="1479.74" width="43.55" height="52.62" fill="#dfdff0"/>
<rect x="509.05" y="1479.74" width="43.55" height="52.62" fill="#8182c3"/>
<rect x="552.30" y="1479.74" width="43.55" height="52.62" fill="#8888c6"/>
<rect x="595.55" y="1479.74" width="43.55" height="52.62" fill="#fdeced"/>
<rect x="33.30" y="1532.06" width="43.55" height="52.62" fill="#fbe1e2"/>
<rect x="76.55" y="1532.06" width="43.55" height="52.62" fill="#f4f4fa"/>
<rect x="119.80" y="1532.06" width="43.55" height="52.62" fill="#fef9f9"/>
<rect x="163.05" y="1532.06" width="43.55" height="52.62" fill="#fad6d8"/>
<rect x="206.30" y="1532.06" width="43.55" height="52.62" fill="#ffffff"/>
<rect x="249.55" y="1532.06" width="43.55" height="52.62" fill="#bebee0"/>
<rect x="292.80" y="1532.06" width="43.55" height="52.62" fill="#e8e8f4"/>
<rect x="336.05" y="1532.06" width="43.55" height="52.62" fill="#f3999d"/>
<rect x="379.30" y="1532.06" width="43.55" height="52.62" fill="#fce8e9"/>
<rect x="422.55" y="1532.06" width="43.55" height="52.62" fill="#b7b7dd"/>
<rect x="465.80" y="1532.06" width="43.55" height="52.62" fill="#c9c9e6"/>
<rect x="509.05" y="1532.06" width="43.55" height="52.62" fill="#a7a7d5"/>
<rect x="552.30" y="1532.06" width="43.55" height="52.62" fill="#d9d9ed"/>
<rect x="595.55" y="1532.06" width="43.55" height="52.62" fill="#b1b1da"/>
<rect x="33.30" y="1584.38" width="43.55" height="52.62" fill="#fad9da"/>
<rect x="76.55" y="1584.38" width="43.55" height="52.62" fill="#d4d4ea"/>
<rect x="119.80" y="1584.38" width="43.55" height="52.62" fill="#f9cacc"/>
<rect x="163.05" y="1584.38" width="43.55" height="52.62" fill="#f39ca0"/>
<rect x="206.30" y="1584.38" width="43.55" height="52.62" fill="#f8c3c6"/>
<rect x="249.55" y="1584.38" width="43.55" height="52.62" fill="#b1b1da"/>
<rect x="292.80" y="1584.38" width="43.55" height="52.62" fill="#cfcfe8"/>
<rect x="336.05" y="1584.38" width="43.55" height="52.62" fill="#f7b9bc"/>
<rect x="379.30" y="1584.38" width="43.55" height="52.62" fill="#fbe1e2"/>
<rect x="422.55" y="1584.38" width="43.55" height="52.62" fill="#f6f6fb"/>
<rect x="465.80" y="1584.38" width="43.55" height="52.62" fill="#fcfcfd"/>
<rect x="509.05" y="1584.38" width="43.55" height="52.62" fill="#d9d9ed"/>
<rect x="552.30" y="1584.38" width="43.55" height="52.62" fill="#b5b5dc"/>
<rect x="595.55" y="1584.38" width="43.55" height="52.62" fill="#9898ce"/>
<rect x="33.30" y="1636.70" width="43.55" height="52.62" fill="#aaaad6"/>
<rect x="76.55" y="1636.70" width="43.55" height="52.62" fill="#f5abae"/>
<rect x="119.80" y="1636.70" width="43.55" height="52.62" fill="#fbdbdd"/>
<rect x="163.05" y="1636.70" width="43.55" height="52.62" fill="#fce3e4"/>
<rect x="206.30" y="1636.70" width="43.55" height="52.62" fill="#fef9f9"/>
<rect x="249.55" y="1636.70" width="43.55" height="52.62" fill="#cfcfe8"/>
<rect x="292.80" y="1636.70" width="43.55" height="52.62" fill="#c0c0e1"/>
<rect x="336.05" y="1636.70" width="43.55" height="52.62" fill="#f1f1f9"/>
<rect x="379.30" y="1636.70" width="43.55" height="52.62" fill="#f7b8bb"/>
<rect x="422.55" y="1636.70" width="43.55" height="52.62" fill="#fdfdfe"/>
<rect x="465.80" y="1636.70" width="43.55" height="52.62" fill="#f6b3b6"/>
<rect x="509.05" y="1636.70" width="43.55" height="52.62" fill="#f9cfd1"/>
<rect x="552.30" y="1636.70" width="43.55" height="52.62" fill="#f7b9bc"/>
<rect x="595.55" y="1636.70" width="43.55" height="52.62" fill="#fef6f6"/>
<rect x="33.30" y="1689.02" width="43.55" height="52.62" fill="#f6afb2"/>
<rect x="76.55" y="1689.02" width="43.55" height="52.62" fill="#cfcfe8"/>
<rect x="119.80" y="1689.02" width="43.55" height="52.62" fill="#fad1d3"/>
<rect x="163.05" y="1689.02" width="43.55" height="52.62" fill="#ffffff"/>
<rect x="206.30" y="1689.02" width="43.55" height="52.62" fill="#3450a4"/>
<rect x="249.55" y="1689.02" width="43.55" height="52.62" fill="#e4e4f2"/>
<rect x="292.80" y="1689.02" width="43.55" height="52.62" fill="#ffffff"/>
<rect x="336.05" y="1689.02" width="43.55" height="52.62" fill="#ee7579"/>
<rect x="379.30" y="1689.02" width="43.55" height="52.62" fill="#f5acb0"/>
<rect x="422.55" y="1689.02" width="43.55" height="52.62" fill="#fafafd"/>
<rect x="465.80" y="1689.02" width="43.55" height="52.62" fill="#fce6e7"/>
<rect x="509.05" y="1689.02" width="43.55" height="52.62" fill="#e4e4f2"/>
<rect x="552.30" y="1689.02" width="43.55" height="52.62" fill="#fce8e9"/>
<rect x="595.55" y="1689.02" width="43.55" height="52.62" fill="#eaeaf5"/>
<text x="98.17" y="1137.76" font-size="7.4" text-anchor="middle" style="font-family:'DejaVu Sans',sans-serif" fill="#222">★</text>
<text x="141.43" y="1137.76" font-size="7.4" text-anchor="middle" style="font-family:'DejaVu Sans',sans-serif" fill="#222">★</text>
<text x="357.68" y="1137.76" font-size="7.4" text-anchor="middle" style="font-family:'DejaVu Sans',sans-serif" fill="#fff">★</text>
<text x="400.93" y="1137.76" font-size="7.4" text-anchor="middle" style="font-family:'DejaVu Sans',sans-serif" fill="#fff">★</text>
<text x="444.18" y="1137.76" font-size="7.4" text-anchor="middle" style="font-family:'DejaVu Sans',sans-serif" fill="#fff">★</text>
<text x="487.43" y="1137.76" font-size="7.4" text-anchor="middle" style="font-family:'DejaVu Sans',sans-serif" fill="#fff">★</text>
<text x="530.67" y="1137.76" font-size="7.4" text-anchor="middle" style="font-family:'DejaVu Sans',sans-serif" fill="#222">★</text>
<text x="573.92" y="1137.76" font-size="7.4" text-anchor="middle" style="font-family:'DejaVu Sans',sans-serif" fill="#fff">★</text>
<text x="617.17" y="1137.76" font-size="7.4" text-anchor="middle" style="font-family:'DejaVu Sans',sans-serif" fill="#fff">★</text>
<text x="357.68" y="1190.08" font-size="7.4" text-anchor="middle" style="font-family:'DejaVu Sans',sans-serif" fill="#fff">★</text>
<text x="400.93" y="1190.08" font-size="7.4" text-anchor="middle" style="font-family:'DejaVu Sans',sans-serif" fill="#fff">★</text>
<text x="530.67" y="1190.08" font-size="7.4" text-anchor="middle" style="font-family:'DejaVu Sans',sans-serif" fill="#fff">★</text>
<text x="573.92" y="1190.08" font-size="7.4" text-anchor="middle" style="font-family:'DejaVu Sans',sans-serif" fill="#fff">★</text>
<text x="617.17" y="1190.08" font-size="7.4" text-anchor="middle" style="font-family:'DejaVu Sans',sans-serif" fill="#fff">★</text>
<text x="271.18" y="1242.40" font-size="7.4" text-anchor="middle" style="font-family:'DejaVu Sans',sans-serif" fill="#fff">★</text>
<text x="357.68" y="1242.40" font-size="7.4" text-anchor="middle" style="font-family:'DejaVu Sans',sans-serif" fill="#fff">★</text>
<text x="400.93" y="1242.40" font-size="7.4" text-anchor="middle" style="font-family:'DejaVu Sans',sans-serif" fill="#fff">★</text>
<text x="444.18" y="1242.40" font-size="7.4" text-anchor="middle" style="font-family:'DejaVu Sans',sans-serif" fill="#fff">★</text>
<text x="487.43" y="1242.40" font-size="7.4" text-anchor="middle" style="font-family:'DejaVu Sans',sans-serif" fill="#222">★</text>
<text x="530.67" y="1242.40" font-size="7.4" text-anchor="middle" style="font-family:'DejaVu Sans',sans-serif" fill="#fff">★</text>
<text x="573.92" y="1242.40" font-size="7.4" text-anchor="middle" style="font-family:'DejaVu Sans',sans-serif" fill="#fff">★</text>
<text x="617.17" y="1242.40" font-size="7.4" text-anchor="middle" style="font-family:'DejaVu Sans',sans-serif" fill="#222">★</text>
<text x="98.17" y="1294.72" font-size="7.4" text-anchor="middle" style="font-family:'DejaVu Sans',sans-serif" fill="#222">★</text>
<text x="271.18" y="1294.72" font-size="7.4" text-anchor="middle" style="font-family:'DejaVu Sans',sans-serif" fill="#fff">★</text>
<text x="314.43" y="1294.72" font-size="7.4" text-anchor="middle" style="font-family:'DejaVu Sans',sans-serif" fill="#fff">★</text>
<text x="357.68" y="1294.72" font-size="7.4" text-anchor="middle" style="font-family:'DejaVu Sans',sans-serif" fill="#fff">★</text>
<text x="400.93" y="1294.72" font-size="7.4" text-anchor="middle" style="font-family:'DejaVu Sans',sans-serif" fill="#fff">★</text>
<text x="444.18" y="1294.72" font-size="7.4" text-anchor="middle" style="font-family:'DejaVu Sans',sans-serif" fill="#222">★</text>
<text x="617.17" y="1294.72" font-size="7.4" text-anchor="middle" style="font-family:'DejaVu Sans',sans-serif" fill="#222">★</text>
<text x="98.17" y="1347.04" font-size="7.4" text-anchor="middle" style="font-family:'DejaVu Sans',sans-serif" fill="#fff">★</text>
<text x="184.68" y="1347.04" font-size="7.4" text-anchor="middle" style="font-family:'DejaVu Sans',sans-serif" fill="#fff">★</text>
<text x="227.93" y="1347.04" font-size="7.4" text-anchor="middle" style="font-family:'DejaVu Sans',sans-serif" fill="#222">★</text>
<text x="530.67" y="1347.04" font-size="7.4" text-anchor="middle" style="font-family:'DejaVu Sans',sans-serif" fill="#fff">★</text>
<text x="617.17" y="1347.04" font-size="7.4" text-anchor="middle" style="font-family:'DejaVu Sans',sans-serif" fill="#fff">★</text>
<text x="271.18" y="1399.36" font-size="7.4" text-anchor="middle" style="font-family:'DejaVu Sans',sans-serif" fill="#222">★</text>
<text x="487.43" y="1399.36" font-size="7.4" text-anchor="middle" style="font-family:'DejaVu Sans',sans-serif" fill="#fff">★</text>
<text x="271.18" y="1451.68" font-size="7.4" text-anchor="middle" style="font-family:'DejaVu Sans',sans-serif" fill="#222">★</text>
<text x="357.68" y="1451.68" font-size="7.4" text-anchor="middle" style="font-family:'DejaVu Sans',sans-serif" fill="#222">★</text>
<text x="444.18" y="1451.68" font-size="7.4" text-anchor="middle" style="font-family:'DejaVu Sans',sans-serif" fill="#fff">★</text>
<text x="487.43" y="1451.68" font-size="7.4" text-anchor="middle" style="font-family:'DejaVu Sans',sans-serif" fill="#fff">★</text>
<text x="530.67" y="1451.68" font-size="7.4" text-anchor="middle" style="font-family:'DejaVu Sans',sans-serif" fill="#fff">★</text>
<text x="573.92" y="1451.68" font-size="7.4" text-anchor="middle" style="font-family:'DejaVu Sans',sans-serif" fill="#fff">★</text>
<text x="617.17" y="1451.68" font-size="7.4" text-anchor="middle" style="font-family:'DejaVu Sans',sans-serif" fill="#fff">★</text>
<text x="184.68" y="1504.00" font-size="7.4" text-anchor="middle" style="font-family:'DejaVu Sans',sans-serif" fill="#222">★</text>
<text x="357.68" y="1556.32" font-size="7.4" text-anchor="middle" style="font-family:'DejaVu Sans',sans-serif" fill="#222">★</text>
<text x="444.18" y="1556.32" font-size="7.4" text-anchor="middle" style="font-family:'DejaVu Sans',sans-serif" fill="#222">★</text>
<text x="530.67" y="1556.32" font-size="7.4" text-anchor="middle" style="font-family:'DejaVu Sans',sans-serif" fill="#222">★</text>
<text x="617.17" y="1556.32" font-size="7.4" text-anchor="middle" style="font-family:'DejaVu Sans',sans-serif" fill="#222">★</text>
<text x="184.68" y="1608.64" font-size="7.4" text-anchor="middle" style="font-family:'DejaVu Sans',sans-serif" fill="#222">★</text>
<text x="54.92" y="1660.96" font-size="7.4" text-anchor="middle" style="font-family:'DejaVu Sans',sans-serif" fill="#222">★</text>
<text x="98.17" y="1660.96" font-size="7.4" text-anchor="middle" style="font-family:'DejaVu Sans',sans-serif" fill="#222">★</text>
<text x="314.43" y="1660.96" font-size="7.4" text-anchor="middle" style="font-family:'DejaVu Sans',sans-serif" fill="#222">★</text>
<text x="400.93" y="1660.96" font-size="7.4" text-anchor="middle" style="font-family:'DejaVu Sans',sans-serif" fill="#222">★</text>
<text x="487.43" y="1660.96" font-size="7.4" text-anchor="middle" style="font-family:'DejaVu Sans',sans-serif" fill="#222">★</text>
<text x="573.92" y="1660.96" font-size="7.4" text-anchor="middle" style="font-family:'DejaVu Sans',sans-serif" fill="#222">★</text>
<text x="54.92" y="1713.28" font-size="7.4" text-anchor="middle" style="font-family:'DejaVu Sans',sans-serif" fill="#222">★</text>
<text x="357.68" y="1713.28" font-size="7.4" text-anchor="middle" style="font-family:'DejaVu Sans',sans-serif" fill="#fff">★</text>
<text x="400.93" y="1713.28" font-size="7.4" text-anchor="middle" style="font-family:'DejaVu Sans',sans-serif" fill="#222">★</text>
<rect x="33.30" y="1113.50" width="605.50" height="627.84" fill="none" stroke="#e4e4e4" stroke-width="0.8"/>
<text transform="translate(-1.30,1081.70)" font-size="47.5" font-weight="bold" font-style="normal" fill="#111" textLength="27.12" lengthAdjust="spacingAndGlyphs">c</text>
<text transform="translate(83.78,1081.7)" font-size="33.2" fill="#222" textLength="545.94" lengthAdjust="spacingAndGlyphs">Regulation of PTS components in <tspan font-style="italic">Cd</tspan></text>
<rect x="638.8" y="1137.70" width="7.4" height="3.4" fill="#222"/>
<text transform="translate(648.89,1144.00)" font-size="22.0" font-weight="normal" font-style="normal" fill="#222" textLength="508.92" lengthAdjust="spacingAndGlyphs">bglF5 CD630_31370 - beta-glucoside-specific IIABC</text>
<rect x="638.8" y="1190.10" width="7.4" height="3.4" fill="#222"/>
<text transform="translate(649.20,1196.40)" font-size="22.0" font-weight="normal" font-style="normal" fill="#222" textLength="325.86" lengthAdjust="spacingAndGlyphs">CD630_30300 - glucose-like IIBC</text>
<rect x="638.8" y="1242.50" width="7.4" height="3.4" fill="#222"/>
<text transform="translate(649.20,1248.80)" font-size="22.0" font-weight="normal" font-style="normal" fill="#222" textLength="310.00" lengthAdjust="spacingAndGlyphs">CD630_30270 - glucose-like IIA</text>
<rect x="638.8" y="1294.90" width="7.4" height="3.4" fill="#222"/>
<text transform="translate(648.89,1301.20)" font-size="22.0" font-weight="normal" font-style="normal" fill="#222" textLength="456.40" lengthAdjust="spacingAndGlyphs">ptsG-BC CD630_26670 - glucose-specific IIBC</text>
<rect x="638.8" y="1347.30" width="7.4" height="3.4" fill="#222"/>
<text transform="translate(649.20,1353.60)" font-size="22.0" font-weight="normal" font-style="normal" fill="#222" textLength="312.42" lengthAdjust="spacingAndGlyphs">CD630_02060 - fructose-like IIA</text>
<rect x="638.8" y="1399.70" width="7.4" height="3.4" fill="#222"/>
<text transform="translate(649.38,1406.00)" font-size="22.0" font-weight="normal" font-style="normal" fill="#222" textLength="344.16" lengthAdjust="spacingAndGlyphs">celB CD630_28830 - Permease IIC</text>
<rect x="638.8" y="1452.10" width="7.4" height="3.4" fill="#222"/>
<text transform="translate(649.20,1458.40)" font-size="22.0" font-weight="normal" font-style="normal" fill="#222" textLength="424.69" lengthAdjust="spacingAndGlyphs">CD630_23270 - fructose/mannitol family IIA</text>
<rect x="638.8" y="1504.50" width="7.4" height="3.4" fill="#222"/>
<text transform="translate(649.20,1510.80)" font-size="22.0" font-weight="normal" font-style="normal" fill="#222" textLength="452.80" lengthAdjust="spacingAndGlyphs">CD630_04910 - mannose/fructose/sorbose IIA</text>
<rect x="638.8" y="1556.90" width="7.4" height="3.4" fill="#222"/>
<text transform="translate(649.20,1563.20)" font-size="22.0" font-weight="normal" font-style="normal" fill="#222" textLength="424.69" lengthAdjust="spacingAndGlyphs">CD630_23260 - fructose/mannitol family IIB</text>
<rect x="638.8" y="1609.30" width="7.4" height="3.4" fill="#222"/>
<text transform="translate(649.20,1615.60)" font-size="22.0" font-weight="normal" font-style="normal" fill="#222" textLength="360.03" lengthAdjust="spacingAndGlyphs">CD630_30150 - mannose-specfic IIA</text>
<rect x="638.8" y="1661.70" width="7.4" height="3.4" fill="#222"/>
<text transform="translate(649.99,1668.00)" font-size="22.0" font-weight="normal" font-style="normal" fill="#222" textLength="460.06" lengthAdjust="spacingAndGlyphs">fruABC CD630_22690 - fructose-specific IIABC</text>
<rect x="638.8" y="1714.10" width="7.4" height="3.4" fill="#222"/>
<text transform="translate(649.71,1720.40)" font-size="22.0" font-weight="normal" font-style="normal" fill="#222" textLength="508.85" lengthAdjust="spacingAndGlyphs">srlEa CD630_07650 - sorbitol-specific IIB N-terminal</text>
<rect x="52.62" y="1741.7" width="4.6" height="7.1" fill="#222"/>
<text transform="translate(42.71,1765.60)" font-size="17.5" font-weight="normal" font-style="normal" fill="#222" textLength="23.49" lengthAdjust="spacingAndGlyphs">Ca</text>
<rect x="95.88" y="1741.7" width="4.6" height="7.1" fill="#222"/>
<text transform="translate(89.12,1765.60)" font-size="17.5" font-weight="normal" font-style="normal" fill="#222" textLength="18.38" lengthAdjust="spacingAndGlyphs">Ar</text>
<rect x="139.12" y="1741.7" width="4.6" height="7.1" fill="#222"/>
<text transform="translate(130.45,1765.60)" font-size="17.5" font-weight="normal" font-style="normal" fill="#222" textLength="20.44" lengthAdjust="spacingAndGlyphs">La</text>
<rect x="182.38" y="1741.7" width="4.6" height="7.1" fill="#222"/>
<text transform="translate(174.55,1765.60)" font-size="17.5" font-weight="normal" font-style="normal" fill="#222" textLength="19.41" lengthAdjust="spacingAndGlyphs">Ls</text>
<rect x="225.62" y="1741.7" width="4.6" height="7.1" fill="#222"/>
<text transform="translate(216.57,1765.60)" font-size="17.5" font-weight="normal" font-style="normal" fill="#222" textLength="22.46" lengthAdjust="spacingAndGlyphs">Cs</text>
<rect x="268.88" y="1741.7" width="4.6" height="7.1" fill="#222"/>
<text transform="translate(259.94,1765.60)" font-size="17.5" font-weight="normal" font-style="normal" fill="#222" textLength="21.44" lengthAdjust="spacingAndGlyphs">Ec</text>
<rect x="312.12" y="1741.7" width="4.6" height="7.1" fill="#222"/>
<text transform="translate(302.43,1765.60)" font-size="17.5" font-weight="normal" font-style="normal" fill="#222" textLength="22.48" lengthAdjust="spacingAndGlyphs">Ka</text>
<rect x="355.38" y="1741.7" width="4.6" height="7.1" fill="#222"/>
<text transform="translate(347.29,1765.60)" font-size="17.5" font-weight="normal" font-style="normal" fill="#222" textLength="20.44" lengthAdjust="spacingAndGlyphs">Lg</text>
<rect x="398.62" y="1741.7" width="4.6" height="7.1" fill="#222"/>
<text transform="translate(389.02,1765.60)" font-size="17.5" font-weight="normal" font-style="normal" fill="#222" textLength="23.49" lengthAdjust="spacingAndGlyphs">Rg</text>
<rect x="441.88" y="1741.7" width="4.6" height="7.1" fill="#222"/>
<text transform="translate(432.73,1765.60)" font-size="17.5" font-weight="normal" font-style="normal" fill="#222" textLength="21.44" lengthAdjust="spacingAndGlyphs">Pv</text>
<rect x="485.12" y="1741.7" width="4.6" height="7.1" fill="#222"/>
<text transform="translate(478.05,1765.60)" font-size="17.5" font-weight="normal" font-style="normal" fill="#222" textLength="17.36" lengthAdjust="spacingAndGlyphs">Bt</text>
<rect x="528.38" y="1741.7" width="4.6" height="7.1" fill="#222"/>
<text transform="translate(519.78,1765.60)" font-size="17.5" font-weight="normal" font-style="normal" fill="#222" textLength="21.44" lengthAdjust="spacingAndGlyphs">Sc</text>
<rect x="571.62" y="1741.7" width="4.6" height="7.1" fill="#222"/>
<text transform="translate(562.54,1765.60)" font-size="17.5" font-weight="normal" font-style="normal" fill="#222" textLength="22.48" lengthAdjust="spacingAndGlyphs">Bu</text>
<rect x="614.88" y="1741.7" width="4.6" height="7.1" fill="#222"/>
<text transform="translate(603.24,1765.60)" font-size="17.5" font-weight="normal" font-style="normal" fill="#222" textLength="27.56" lengthAdjust="spacingAndGlyphs">Pm</text>
<text transform="translate(252.20,1792.60)" font-size="22.0" font-weight="normal" font-style="normal" fill="#222" textLength="152.79" lengthAdjust="spacingAndGlyphs">Partner species</text>
<defs><linearGradient id="g718" x1="0" x2="1" y1="0" y2="0"><stop offset="0.0%" stop-color="#e5382a"/><stop offset="25.0%" stop-color="#f77c7c"/><stop offset="50.0%" stop-color="#ffffff"/><stop offset="75.0%" stop-color="#8888c8"/><stop offset="87.5%" stop-color="#4c58ac"/><stop offset="95.0%" stop-color="#3851a6"/><stop offset="100.0%" stop-color="#3450a4"/></linearGradient></defs>
<rect x="718.3" y="1795.1" width="156.60" height="35.80" fill="url(#g718)"/>
<rect x="716.30" y="1785.6" width="4.0" height="9.80" fill="#222"/>
<text transform="translate(723.20,1779.93) rotate(-90)" font-size="23.0" font-weight="normal" font-style="normal" fill="#222" textLength="12.54" lengthAdjust="spacingAndGlyphs">2</text>
<rect x="755.45" y="1785.6" width="4.0" height="9.80" fill="#222"/>
<text transform="translate(762.35,1780.51) rotate(-90)" font-size="23.0" font-weight="normal" font-style="normal" fill="#222" textLength="12.54" lengthAdjust="spacingAndGlyphs">1</text>
<rect x="794.60" y="1785.6" width="4.0" height="9.80" fill="#222"/>
<text transform="translate(801.50,1779.68) rotate(-90)" font-size="23.0" font-weight="normal" font-style="normal" fill="#222" textLength="12.54" lengthAdjust="spacingAndGlyphs">0</text>
<rect x="833.75" y="1785.6" width="4.0" height="9.80" fill="#222"/>
<text transform="translate(840.65,1779.90) rotate(-90)" font-size="23.0" font-weight="normal" font-style="normal" fill="#222" textLength="25.70" lengthAdjust="spacingAndGlyphs">−1</text>
<rect x="872.90" y="1785.6" width="4.0" height="9.80" fill="#222"/>
<text transform="translate(879.80,1779.90) rotate(-90)" font-size="23.0" font-weight="normal" font-style="normal" fill="#222" textLength="25.70" lengthAdjust="spacingAndGlyphs">−2</text>
<text transform="translate(687.52,1858.1)" font-size="22.1" fill="#222" textLength="216.15" lengthAdjust="spacingAndGlyphs">log<tspan font-size="11.1" font-weight="bold" dy="0.6">2</tspan><tspan dy="-0.6">(co-/mono-culture)</tspan></text>
<rect x="1207.90" y="1109.90" width="41.58" height="80.70" fill="#f4a6aa"/>
<rect x="1249.18" y="1109.90" width="41.58" height="80.70" fill="#b2b2b2"/>
<rect x="1290.46" y="1109.90" width="41.58" height="80.70" fill="#f29397"/>
<rect x="1331.74" y="1109.90" width="41.58" height="80.70" fill="#c6c6e4"/>
<rect x="1373.02" y="1109.90" width="41.58" height="80.70" fill="#6b6eb8"/>
<rect x="1414.30" y="1109.90" width="41.58" height="80.70" fill="#b2b2b2"/>
<rect x="1455.58" y="1109.90" width="41.58" height="80.70" fill="#c8c8e5"/>
<rect x="1496.86" y="1109.90" width="41.58" height="80.70" fill="#f9c8cb"/>
<rect x="1538.14" y="1109.90" width="41.58" height="80.70" fill="#6b6eb8"/>
<rect x="1579.42" y="1109.90" width="41.58" height="80.70" fill="#f9d0d2"/>
<rect x="1620.70" y="1109.90" width="41.58" height="80.70" fill="#b2b2b2"/>
<rect x="1661.98" y="1109.90" width="41.58" height="80.70" fill="#b2b2b2"/>
<rect x="1703.26" y="1109.90" width="41.58" height="80.70" fill="#f3969a"/>
<rect x="1744.54" y="1109.90" width="41.58" height="80.70" fill="#f4a6aa"/>
<rect x="1207.90" y="1190.30" width="41.58" height="80.70" fill="#b2b2b2"/>
<rect x="1249.18" y="1190.30" width="41.58" height="80.70" fill="#b2b2b2"/>
<rect x="1290.46" y="1190.30" width="41.58" height="80.70" fill="#d7d7ec"/>
<rect x="1331.74" y="1190.30" width="41.58" height="80.70" fill="#8d8dc9"/>
<rect x="1373.02" y="1190.30" width="41.58" height="80.70" fill="#fef2f3"/>
<rect x="1414.30" y="1190.30" width="41.58" height="80.70" fill="#f29397"/>
<rect x="1455.58" y="1190.30" width="41.58" height="80.70" fill="#fbdedf"/>
<rect x="1496.86" y="1190.30" width="41.58" height="80.70" fill="#fad6d8"/>
<rect x="1538.14" y="1190.30" width="41.58" height="80.70" fill="#c0c0e1"/>
<rect x="1579.42" y="1190.30" width="41.58" height="80.70" fill="#585eaf"/>
<rect x="1620.70" y="1190.30" width="41.58" height="80.70" fill="#9393cc"/>
<rect x="1661.98" y="1190.30" width="41.58" height="80.70" fill="#b2b2b2"/>
<rect x="1703.26" y="1190.30" width="41.58" height="80.70" fill="#b2b2b2"/>
<rect x="1744.54" y="1190.30" width="41.58" height="80.70" fill="#b2b2b2"/>
<rect x="1207.90" y="1270.70" width="41.58" height="80.70" fill="#fef5f5"/>
<rect x="1249.18" y="1270.70" width="41.58" height="80.70" fill="#f1f1f9"/>
<rect x="1290.46" y="1270.70" width="41.58" height="80.70" fill="#ffffff"/>
<rect x="1331.74" y="1270.70" width="41.58" height="80.70" fill="#fdf0f0"/>
<rect x="1373.02" y="1270.70" width="41.58" height="80.70" fill="#ddddef"/>
<rect x="1414.30" y="1270.70" width="41.58" height="80.70" fill="#f6b5b8"/>
<rect x="1455.58" y="1270.70" width="41.58" height="80.70" fill="#f1f1f9"/>
<rect x="1496.86" y="1270.70" width="41.58" height="80.70" fill="#fad9da"/>
<rect x="1538.14" y="1270.70" width="41.58" height="80.70" fill="#a4a4d4"/>
<rect x="1579.42" y="1270.70" width="41.58" height="80.70" fill="#a6a6d5"/>
<rect x="1620.70" y="1270.70" width="41.58" height="80.70" fill="#e4e4f2"/>
<rect x="1661.98" y="1270.70" width="41.58" height="80.70" fill="#eeeef7"/>
<rect x="1703.26" y="1270.70" width="41.58" height="80.70" fill="#c8c8e5"/>
<rect x="1744.54" y="1270.70" width="41.58" height="80.70" fill="#d7d7ec"/>
<rect x="1207.90" y="1351.10" width="41.58" height="80.70" fill="#a4a4d4"/>
<rect x="1249.18" y="1351.10" width="41.58" height="80.70" fill="#eeeef7"/>
<rect x="1290.46" y="1351.10" width="41.58" height="80.70" fill="#d7d7ec"/>
<rect x="1331.74" y="1351.10" width="41.58" height="80.70" fill="#c0c0e1"/>
<rect x="1373.02" y="1351.10" width="41.58" height="80.70" fill="#d5d5eb"/>
<rect x="1414.30" y="1351.10" width="41.58" height="80.70" fill="#fbdbdd"/>
<rect x="1455.58" y="1351.10" width="41.58" height="80.70" fill="#f7bcbe"/>
<rect x="1496.86" y="1351.10" width="41.58" height="80.70" fill="#fce6e7"/>
<rect x="1538.14" y="1351.10" width="41.58" height="80.70" fill="#cfcfe8"/>
<rect x="1579.42" y="1351.10" width="41.58" height="80.70" fill="#b1b1da"/>
<rect x="1620.70" y="1351.10" width="41.58" height="80.70" fill="#fef5f5"/>
<rect x="1661.98" y="1351.10" width="41.58" height="80.70" fill="#cfcfe8"/>
<rect x="1703.26" y="1351.10" width="41.58" height="80.70" fill="#c6c6e4"/>
<rect x="1744.54" y="1351.10" width="41.58" height="80.70" fill="#c3c3e2"/>
<rect x="1207.90" y="1431.50" width="41.58" height="80.70" fill="#f28d91"/>
<rect x="1249.18" y="1431.50" width="41.58" height="80.70" fill="#ec656a"/>
<rect x="1290.46" y="1431.50" width="41.58" height="80.70" fill="#e63f44"/>
<rect x="1331.74" y="1431.50" width="41.58" height="80.70" fill="#ef7c81"/>
<rect x="1373.02" y="1431.50" width="41.58" height="80.70" fill="#e7474b"/>
<rect x="1414.30" y="1431.50" width="41.58" height="80.70" fill="#b2b2b2"/>
<rect x="1455.58" y="1431.50" width="41.58" height="80.70" fill="#f6b5b8"/>
<rect x="1496.86" y="1431.50" width="41.58" height="80.70" fill="#f5aaad"/>
<rect x="1538.14" y="1431.50" width="41.58" height="80.70" fill="#ddddef"/>
<rect x="1579.42" y="1431.50" width="41.58" height="80.70" fill="#f28f94"/>
<rect x="1620.70" y="1431.50" width="41.58" height="80.70" fill="#b2b2b2"/>
<rect x="1661.98" y="1431.50" width="41.58" height="80.70" fill="#f9c8cb"/>
<rect x="1703.26" y="1431.50" width="41.58" height="80.70" fill="#b2b2b2"/>
<rect x="1744.54" y="1431.50" width="41.58" height="80.70" fill="#f9cacc"/>
<rect x="1207.90" y="1511.90" width="41.58" height="80.70" fill="#f9cfd1"/>
<rect x="1249.18" y="1511.90" width="41.58" height="80.70" fill="#f8c2c4"/>
<rect x="1290.46" y="1511.90" width="41.58" height="80.70" fill="#f39da1"/>
<rect x="1331.74" y="1511.90" width="41.58" height="80.70" fill="#f8c0c2"/>
<rect x="1373.02" y="1511.90" width="41.58" height="80.70" fill="#ef7c81"/>
<rect x="1414.30" y="1511.90" width="41.58" height="80.70" fill="#f7bcbe"/>
<rect x="1455.58" y="1511.90" width="41.58" height="80.70" fill="#f9cacc"/>
<rect x="1496.86" y="1511.90" width="41.58" height="80.70" fill="#f8c2c4"/>
<rect x="1538.14" y="1511.90" width="41.58" height="80.70" fill="#a4a4d4"/>
<rect x="1579.42" y="1511.90" width="41.58" height="80.70" fill="#c9c9e6"/>
<rect x="1620.70" y="1511.90" width="41.58" height="80.70" fill="#cccce7"/>
<rect x="1661.98" y="1511.90" width="41.58" height="80.70" fill="#c6c6e4"/>
<rect x="1703.26" y="1511.90" width="41.58" height="80.70" fill="#a4a4d4"/>
<rect x="1744.54" y="1511.90" width="41.58" height="80.70" fill="#9898ce"/>
<rect x="1207.90" y="1592.30" width="41.58" height="80.70" fill="#f7b8bb"/>
<rect x="1249.18" y="1592.30" width="41.58" height="80.70" fill="#f8c0c2"/>
<rect x="1290.46" y="1592.30" width="41.58" height="80.70" fill="#f7b9bc"/>
<rect x="1331.74" y="1592.30" width="41.58" height="80.70" fill="#f8c2c4"/>
<rect x="1373.02" y="1592.30" width="41.58" height="80.70" fill="#f6b5b8"/>
<rect x="1414.30" y="1592.30" width="41.58" height="80.70" fill="#ef7c81"/>
<rect x="1455.58" y="1592.30" width="41.58" height="80.70" fill="#f8c6c8"/>
<rect x="1496.86" y="1592.30" width="41.58" height="80.70" fill="#b1b1da"/>
<rect x="1538.14" y="1592.30" width="41.58" height="80.70" fill="#fad1d3"/>
<rect x="1579.42" y="1592.30" width="41.58" height="80.70" fill="#fad9da"/>
<rect x="1620.70" y="1592.30" width="41.58" height="80.70" fill="#fce9ea"/>
<rect x="1661.98" y="1592.30" width="41.58" height="80.70" fill="#f5aaad"/>
<rect x="1703.26" y="1592.30" width="41.58" height="80.70" fill="#fad5d7"/>
<rect x="1744.54" y="1592.30" width="41.58" height="80.70" fill="#f9d0d2"/>
<rect x="1207.90" y="1672.70" width="41.58" height="80.70" fill="#fbdedf"/>
<rect x="1249.18" y="1672.70" width="41.58" height="80.70" fill="#f39ca0"/>
<rect x="1290.46" y="1672.70" width="41.58" height="80.70" fill="#f18a8f"/>
<rect x="1331.74" y="1672.70" width="41.58" height="80.70" fill="#fad1d3"/>
<rect x="1373.02" y="1672.70" width="41.58" height="80.70" fill="#fad4d6"/>
<rect x="1414.30" y="1672.70" width="41.58" height="80.70" fill="#f4a6aa"/>
<rect x="1455.58" y="1672.70" width="41.58" height="80.70" fill="#f6f6fb"/>
<rect x="1496.86" y="1672.70" width="41.58" height="80.70" fill="#fce9ea"/>
<rect x="1538.14" y="1672.70" width="41.58" height="80.70" fill="#e6e6f3"/>
<rect x="1579.42" y="1672.70" width="41.58" height="80.70" fill="#f4f4fa"/>
<rect x="1620.70" y="1672.70" width="41.58" height="80.70" fill="#ffffff"/>
<rect x="1661.98" y="1672.70" width="41.58" height="80.70" fill="#fef2f3"/>
<rect x="1703.26" y="1672.70" width="41.58" height="80.70" fill="#f39ca0"/>
<rect x="1744.54" y="1672.70" width="41.58" height="80.70" fill="#f6f6fb"/>
<rect x="1207.90" y="1753.10" width="41.58" height="80.70" fill="#b2b2b2"/>
<rect x="1249.18" y="1753.10" width="41.58" height="80.70" fill="#f6b3b6"/>
<rect x="1290.46" y="1753.10" width="41.58" height="80.70" fill="#f8c6c8"/>
<rect x="1331.74" y="1753.10" width="41.58" height="80.70" fill="#fad6d8"/>
<rect x="1373.02" y="1753.10" width="41.58" height="80.70" fill="#fad5d7"/>
<rect x="1414.30" y="1753.10" width="41.58" height="80.70" fill="#f5a9ac"/>
<rect x="1455.58" y="1753.10" width="41.58" height="80.70" fill="#f7b8bb"/>
<rect x="1496.86" y="1753.10" width="41.58" height="80.70" fill="#f5abae"/>
<rect x="1538.14" y="1753.10" width="41.58" height="80.70" fill="#c9c9e6"/>
<rect x="1579.42" y="1753.10" width="41.58" height="80.70" fill="#f7b8bb"/>
<rect x="1620.70" y="1753.10" width="41.58" height="80.70" fill="#b2b2b2"/>
<rect x="1661.98" y="1753.10" width="41.58" height="80.70" fill="#b2b2b2"/>
<rect x="1703.26" y="1753.10" width="41.58" height="80.70" fill="#fad5d7"/>
<rect x="1744.54" y="1753.10" width="41.58" height="80.70" fill="#f5abae"/>
<text transform="translate(1216.82,1154.10)" font-size="17" font-weight="normal" font-style="normal" fill="#222" textLength="23.63" lengthAdjust="spacingAndGlyphs">0/2</text>
<text transform="translate(1299.38,1154.10)" font-size="17" font-weight="normal" font-style="normal" fill="#222" textLength="23.63" lengthAdjust="spacingAndGlyphs">0/2</text>
<text transform="translate(1340.66,1154.10)" font-size="17" font-weight="normal" font-style="normal" fill="#222" textLength="23.63" lengthAdjust="spacingAndGlyphs">0/2</text>
<text transform="translate(1381.62,1154.10)" font-size="17" font-weight="normal" font-style="normal" fill="#fff" textLength="23.63" lengthAdjust="spacingAndGlyphs">1/2</text>
<text transform="translate(1464.50,1154.10)" font-size="17" font-weight="normal" font-style="normal" fill="#222" textLength="23.63" lengthAdjust="spacingAndGlyphs">0/2</text>
<text transform="translate(1505.78,1154.10)" font-size="17" font-weight="normal" font-style="normal" fill="#222" textLength="23.63" lengthAdjust="spacingAndGlyphs">0/2</text>
<text transform="translate(1546.74,1154.10)" font-size="17" font-weight="normal" font-style="normal" fill="#fff" textLength="23.63" lengthAdjust="spacingAndGlyphs">1/2</text>
<text transform="translate(1588.34,1154.10)" font-size="17" font-weight="normal" font-style="normal" fill="#222" textLength="23.63" lengthAdjust="spacingAndGlyphs">0/2</text>
<text transform="translate(1712.18,1154.10)" font-size="17" font-weight="normal" font-style="normal" fill="#222" textLength="23.63" lengthAdjust="spacingAndGlyphs">0/2</text>
<text transform="translate(1753.46,1154.10)" font-size="17" font-weight="normal" font-style="normal" fill="#222" textLength="23.63" lengthAdjust="spacingAndGlyphs">0/2</text>
<text transform="translate(1299.32,1234.50)" font-size="17" font-weight="normal" font-style="normal" fill="#222" textLength="23.63" lengthAdjust="spacingAndGlyphs">0/3</text>
<text transform="translate(1340.61,1234.50)" font-size="17" font-weight="normal" font-style="normal" fill="#fff" textLength="23.63" lengthAdjust="spacingAndGlyphs">3/3</text>
<text transform="translate(1381.88,1234.50)" font-size="17" font-weight="normal" font-style="normal" fill="#222" textLength="23.63" lengthAdjust="spacingAndGlyphs">0/3</text>
<text transform="translate(1422.84,1234.50)" font-size="17" font-weight="normal" font-style="normal" fill="#222" textLength="23.63" lengthAdjust="spacingAndGlyphs">1/3</text>
<text transform="translate(1464.44,1234.50)" font-size="17" font-weight="normal" font-style="normal" fill="#222" textLength="23.63" lengthAdjust="spacingAndGlyphs">0/3</text>
<text transform="translate(1505.72,1234.50)" font-size="17" font-weight="normal" font-style="normal" fill="#222" textLength="23.63" lengthAdjust="spacingAndGlyphs">0/3</text>
<text transform="translate(1546.68,1234.50)" font-size="17" font-weight="normal" font-style="normal" fill="#222" textLength="23.63" lengthAdjust="spacingAndGlyphs">1/3</text>
<text transform="translate(1588.19,1234.50)" font-size="17" font-weight="normal" font-style="normal" fill="#fff" textLength="23.63" lengthAdjust="spacingAndGlyphs">2/3</text>
<text transform="translate(1629.47,1234.50)" font-size="17" font-weight="normal" font-style="normal" fill="#fff" textLength="23.63" lengthAdjust="spacingAndGlyphs">2/3</text>
<text transform="translate(1216.80,1314.90)" font-size="17" font-weight="normal" font-style="normal" fill="#222" textLength="23.63" lengthAdjust="spacingAndGlyphs">0/1</text>
<text transform="translate(1258.08,1314.90)" font-size="17" font-weight="normal" font-style="normal" fill="#222" textLength="23.63" lengthAdjust="spacingAndGlyphs">0/1</text>
<text transform="translate(1299.36,1314.90)" font-size="17" font-weight="normal" font-style="normal" fill="#222" textLength="23.63" lengthAdjust="spacingAndGlyphs">0/1</text>
<text transform="translate(1340.64,1314.90)" font-size="17" font-weight="normal" font-style="normal" fill="#222" textLength="23.63" lengthAdjust="spacingAndGlyphs">0/1</text>
<text transform="translate(1381.92,1314.90)" font-size="17" font-weight="normal" font-style="normal" fill="#222" textLength="23.63" lengthAdjust="spacingAndGlyphs">0/1</text>
<text transform="translate(1423.20,1314.90)" font-size="17" font-weight="normal" font-style="normal" fill="#222" textLength="23.63" lengthAdjust="spacingAndGlyphs">0/1</text>
<text transform="translate(1464.48,1314.90)" font-size="17" font-weight="normal" font-style="normal" fill="#222" textLength="23.63" lengthAdjust="spacingAndGlyphs">0/1</text>
<text transform="translate(1505.76,1314.90)" font-size="17" font-weight="normal" font-style="normal" fill="#222" textLength="23.63" lengthAdjust="spacingAndGlyphs">0/1</text>
<text transform="translate(1547.04,1314.90)" font-size="17" font-weight="normal" font-style="normal" fill="#222" textLength="23.63" lengthAdjust="spacingAndGlyphs">0/1</text>
<text transform="translate(1588.32,1314.90)" font-size="17" font-weight="normal" font-style="normal" fill="#222" textLength="23.63" lengthAdjust="spacingAndGlyphs">0/1</text>
<text transform="translate(1629.60,1314.90)" font-size="17" font-weight="normal" font-style="normal" fill="#222" textLength="23.63" lengthAdjust="spacingAndGlyphs">0/1</text>
<text transform="translate(1670.88,1314.90)" font-size="17" font-weight="normal" font-style="normal" fill="#222" textLength="23.63" lengthAdjust="spacingAndGlyphs">0/1</text>
<text transform="translate(1712.16,1314.90)" font-size="17" font-weight="normal" font-style="normal" fill="#222" textLength="23.63" lengthAdjust="spacingAndGlyphs">0/1</text>
<text transform="translate(1753.44,1314.90)" font-size="17" font-weight="normal" font-style="normal" fill="#222" textLength="23.63" lengthAdjust="spacingAndGlyphs">0/1</text>
<text transform="translate(1216.50,1395.30)" font-size="17" font-weight="normal" font-style="normal" fill="#222" textLength="23.63" lengthAdjust="spacingAndGlyphs">1/2</text>
<text transform="translate(1258.10,1395.30)" font-size="17" font-weight="normal" font-style="normal" fill="#222" textLength="23.63" lengthAdjust="spacingAndGlyphs">0/2</text>
<text transform="translate(1299.38,1395.30)" font-size="17" font-weight="normal" font-style="normal" fill="#222" textLength="23.63" lengthAdjust="spacingAndGlyphs">0/2</text>
<text transform="translate(1340.66,1395.30)" font-size="17" font-weight="normal" font-style="normal" fill="#222" textLength="23.63" lengthAdjust="spacingAndGlyphs">0/2</text>
<text transform="translate(1381.94,1395.30)" font-size="17" font-weight="normal" font-style="normal" fill="#222" textLength="23.63" lengthAdjust="spacingAndGlyphs">0/2</text>
<text transform="translate(1423.22,1395.30)" font-size="17" font-weight="normal" font-style="normal" fill="#222" textLength="23.63" lengthAdjust="spacingAndGlyphs">0/2</text>
<text transform="translate(1464.50,1395.30)" font-size="17" font-weight="normal" font-style="normal" fill="#222" textLength="23.63" lengthAdjust="spacingAndGlyphs">0/2</text>
<text transform="translate(1505.78,1395.30)" font-size="17" font-weight="normal" font-style="normal" fill="#222" textLength="23.63" lengthAdjust="spacingAndGlyphs">0/2</text>
<text transform="translate(1547.06,1395.30)" font-size="17" font-weight="normal" font-style="normal" fill="#222" textLength="23.63" lengthAdjust="spacingAndGlyphs">0/2</text>
<text transform="translate(1588.02,1395.30)" font-size="17" font-weight="normal" font-style="normal" fill="#222" textLength="23.63" lengthAdjust="spacingAndGlyphs">1/2</text>
<text transform="translate(1629.62,1395.30)" font-size="17" font-weight="normal" font-style="normal" fill="#222" textLength="23.63" lengthAdjust="spacingAndGlyphs">0/2</text>
<text transform="translate(1670.90,1395.30)" font-size="17" font-weight="normal" font-style="normal" fill="#222" textLength="23.63" lengthAdjust="spacingAndGlyphs">0/2</text>
<text transform="translate(1712.18,1395.30)" font-size="17" font-weight="normal" font-style="normal" fill="#222" textLength="23.63" lengthAdjust="spacingAndGlyphs">0/2</text>
<text transform="translate(1753.46,1395.30)" font-size="17" font-weight="normal" font-style="normal" fill="#222" textLength="23.63" lengthAdjust="spacingAndGlyphs">0/2</text>
<text transform="translate(1216.96,1475.70)" font-size="17" font-weight="normal" font-style="normal" fill="#222" textLength="23.63" lengthAdjust="spacingAndGlyphs">4/7</text>
<text transform="translate(1257.78,1475.70)" font-size="17" font-weight="normal" font-style="normal" fill="#fff" textLength="23.63" lengthAdjust="spacingAndGlyphs">1/7</text>
<text transform="translate(1299.29,1475.70)" font-size="17" font-weight="normal" font-style="normal" fill="#fff" textLength="23.63" lengthAdjust="spacingAndGlyphs">2/7</text>
<text transform="translate(1340.34,1475.70)" font-size="17" font-weight="normal" font-style="normal" fill="#fff" textLength="23.63" lengthAdjust="spacingAndGlyphs">1/7</text>
<text transform="translate(1381.62,1475.70)" font-size="17" font-weight="normal" font-style="normal" fill="#fff" textLength="23.63" lengthAdjust="spacingAndGlyphs">1/7</text>
<text transform="translate(1464.18,1475.70)" font-size="17" font-weight="normal" font-style="normal" fill="#222" textLength="23.63" lengthAdjust="spacingAndGlyphs">1/7</text>
<text transform="translate(1505.79,1475.70)" font-size="17" font-weight="normal" font-style="normal" fill="#222" textLength="23.63" lengthAdjust="spacingAndGlyphs">3/7</text>
<text transform="translate(1547.06,1475.70)" font-size="17" font-weight="normal" font-style="normal" fill="#222" textLength="23.63" lengthAdjust="spacingAndGlyphs">0/7</text>
<text transform="translate(1588.02,1475.70)" font-size="17" font-weight="normal" font-style="normal" fill="#222" textLength="23.63" lengthAdjust="spacingAndGlyphs">1/7</text>
<text transform="translate(1670.90,1475.70)" font-size="17" font-weight="normal" font-style="normal" fill="#222" textLength="23.63" lengthAdjust="spacingAndGlyphs">0/7</text>
<text transform="translate(1753.46,1475.70)" font-size="17" font-weight="normal" font-style="normal" fill="#222" textLength="23.63" lengthAdjust="spacingAndGlyphs">0/7</text>
<text transform="translate(1216.82,1556.10)" font-size="17" font-weight="normal" font-style="normal" fill="#222" textLength="23.63" lengthAdjust="spacingAndGlyphs">0/7</text>
<text transform="translate(1258.10,1556.10)" font-size="17" font-weight="normal" font-style="normal" fill="#222" textLength="23.63" lengthAdjust="spacingAndGlyphs">0/7</text>
<text transform="translate(1299.39,1556.10)" font-size="17" font-weight="normal" font-style="normal" fill="#222" textLength="23.63" lengthAdjust="spacingAndGlyphs">3/7</text>
<text transform="translate(1340.34,1556.10)" font-size="17" font-weight="normal" font-style="normal" fill="#222" textLength="23.63" lengthAdjust="spacingAndGlyphs">1/7</text>
<text transform="translate(1381.85,1556.10)" font-size="17" font-weight="normal" font-style="normal" fill="#fff" textLength="23.63" lengthAdjust="spacingAndGlyphs">2/7</text>
<text transform="translate(1422.90,1556.10)" font-size="17" font-weight="normal" font-style="normal" fill="#222" textLength="23.63" lengthAdjust="spacingAndGlyphs">1/7</text>
<text transform="translate(1464.50,1556.10)" font-size="17" font-weight="normal" font-style="normal" fill="#222" textLength="23.63" lengthAdjust="spacingAndGlyphs">0/7</text>
<text transform="translate(1505.78,1556.10)" font-size="17" font-weight="normal" font-style="normal" fill="#222" textLength="23.63" lengthAdjust="spacingAndGlyphs">0/7</text>
<text transform="translate(1546.97,1556.10)" font-size="17" font-weight="normal" font-style="normal" fill="#222" textLength="23.63" lengthAdjust="spacingAndGlyphs">2/7</text>
<text transform="translate(1588.34,1556.10)" font-size="17" font-weight="normal" font-style="normal" fill="#222" textLength="23.63" lengthAdjust="spacingAndGlyphs">0/7</text>
<text transform="translate(1629.62,1556.10)" font-size="17" font-weight="normal" font-style="normal" fill="#222" textLength="23.63" lengthAdjust="spacingAndGlyphs">0/7</text>
<text transform="translate(1670.90,1556.10)" font-size="17" font-weight="normal" font-style="normal" fill="#222" textLength="23.63" lengthAdjust="spacingAndGlyphs">0/7</text>
<text transform="translate(1711.86,1556.10)" font-size="17" font-weight="normal" font-style="normal" fill="#222" textLength="23.63" lengthAdjust="spacingAndGlyphs">1/7</text>
<text transform="translate(1753.14,1556.10)" font-size="17" font-weight="normal" font-style="normal" fill="#fff" textLength="23.63" lengthAdjust="spacingAndGlyphs">1/7</text>
<text transform="translate(1216.82,1636.50)" font-size="17" font-weight="normal" font-style="normal" fill="#222" textLength="23.63" lengthAdjust="spacingAndGlyphs">0/2</text>
<text transform="translate(1258.10,1636.50)" font-size="17" font-weight="normal" font-style="normal" fill="#222" textLength="23.63" lengthAdjust="spacingAndGlyphs">0/2</text>
<text transform="translate(1299.38,1636.50)" font-size="17" font-weight="normal" font-style="normal" fill="#222" textLength="23.63" lengthAdjust="spacingAndGlyphs">0/2</text>
<text transform="translate(1340.66,1636.50)" font-size="17" font-weight="normal" font-style="normal" fill="#222" textLength="23.63" lengthAdjust="spacingAndGlyphs">0/2</text>
<text transform="translate(1381.94,1636.50)" font-size="17" font-weight="normal" font-style="normal" fill="#222" textLength="23.63" lengthAdjust="spacingAndGlyphs">0/2</text>
<text transform="translate(1423.22,1636.50)" font-size="17" font-weight="normal" font-style="normal" fill="#fff" textLength="23.63" lengthAdjust="spacingAndGlyphs">0/2</text>
<text transform="translate(1464.50,1636.50)" font-size="17" font-weight="normal" font-style="normal" fill="#222" textLength="23.63" lengthAdjust="spacingAndGlyphs">0/2</text>
<text transform="translate(1505.78,1636.50)" font-size="17" font-weight="normal" font-style="normal" fill="#222" textLength="23.63" lengthAdjust="spacingAndGlyphs">0/2</text>
<text transform="translate(1547.06,1636.50)" font-size="17" font-weight="normal" font-style="normal" fill="#222" textLength="23.63" lengthAdjust="spacingAndGlyphs">0/2</text>
<text transform="translate(1588.34,1636.50)" font-size="17" font-weight="normal" font-style="normal" fill="#222" textLength="23.63" lengthAdjust="spacingAndGlyphs">0/2</text>
<text transform="translate(1629.62,1636.50)" font-size="17" font-weight="normal" font-style="normal" fill="#222" textLength="23.63" lengthAdjust="spacingAndGlyphs">0/2</text>
<text transform="translate(1670.90,1636.50)" font-size="17" font-weight="normal" font-style="normal" fill="#222" textLength="23.63" lengthAdjust="spacingAndGlyphs">0/2</text>
<text transform="translate(1712.18,1636.50)" font-size="17" font-weight="normal" font-style="normal" fill="#222" textLength="23.63" lengthAdjust="spacingAndGlyphs">0/2</text>
<text transform="translate(1753.46,1636.50)" font-size="17" font-weight="normal" font-style="normal" fill="#222" textLength="23.63" lengthAdjust="spacingAndGlyphs">0/2</text>
<text transform="translate(1216.80,1716.90)" font-size="17" font-weight="normal" font-style="normal" fill="#222" textLength="23.63" lengthAdjust="spacingAndGlyphs">0/1</text>
<text transform="translate(1257.77,1716.90)" font-size="17" font-weight="normal" font-style="normal" fill="#222" textLength="23.63" lengthAdjust="spacingAndGlyphs">1/1</text>
<text transform="translate(1299.05,1716.90)" font-size="17" font-weight="normal" font-style="normal" fill="#222" textLength="23.63" lengthAdjust="spacingAndGlyphs">1/1</text>
<text transform="translate(1340.64,1716.90)" font-size="17" font-weight="normal" font-style="normal" fill="#222" textLength="23.63" lengthAdjust="spacingAndGlyphs">0/1</text>
<text transform="translate(1381.92,1716.90)" font-size="17" font-weight="normal" font-style="normal" fill="#222" textLength="23.63" lengthAdjust="spacingAndGlyphs">0/1</text>
<text transform="translate(1422.89,1716.90)" font-size="17" font-weight="normal" font-style="normal" fill="#222" textLength="23.63" lengthAdjust="spacingAndGlyphs">1/1</text>
<text transform="translate(1464.48,1716.90)" font-size="17" font-weight="normal" font-style="normal" fill="#222" textLength="23.63" lengthAdjust="spacingAndGlyphs">0/1</text>
<text transform="translate(1505.76,1716.90)" font-size="17" font-weight="normal" font-style="normal" fill="#222" textLength="23.63" lengthAdjust="spacingAndGlyphs">0/1</text>
<text transform="translate(1547.04,1716.90)" font-size="17" font-weight="normal" font-style="normal" fill="#222" textLength="23.63" lengthAdjust="spacingAndGlyphs">0/1</text>
<text transform="translate(1588.32,1716.90)" font-size="17" font-weight="normal" font-style="normal" fill="#222" textLength="23.63" lengthAdjust="spacingAndGlyphs">0/1</text>
<text transform="translate(1629.60,1716.90)" font-size="17" font-weight="normal" font-style="normal" fill="#222" textLength="23.63" lengthAdjust="spacingAndGlyphs">0/1</text>
<text transform="translate(1670.88,1716.90)" font-size="17" font-weight="normal" font-style="normal" fill="#222" textLength="23.63" lengthAdjust="spacingAndGlyphs">0/1</text>
<text transform="translate(1711.85,1716.90)" font-size="17" font-weight="normal" font-style="normal" fill="#222" textLength="23.63" lengthAdjust="spacingAndGlyphs">1/1</text>
<text transform="translate(1753.44,1716.90)" font-size="17" font-weight="normal" font-style="normal" fill="#222" textLength="23.63" lengthAdjust="spacingAndGlyphs">0/1</text>
<text transform="translate(1257.78,1797.30)" font-size="17" font-weight="normal" font-style="normal" fill="#222" textLength="23.63" lengthAdjust="spacingAndGlyphs">1/7</text>
<text transform="translate(1299.38,1797.30)" font-size="17" font-weight="normal" font-style="normal" fill="#222" textLength="23.63" lengthAdjust="spacingAndGlyphs">0/7</text>
<text transform="translate(1340.66,1797.30)" font-size="17" font-weight="normal" font-style="normal" fill="#222" textLength="23.63" lengthAdjust="spacingAndGlyphs">0/7</text>
<text transform="translate(1381.94,1797.30)" font-size="17" font-weight="normal" font-style="normal" fill="#222" textLength="23.63" lengthAdjust="spacingAndGlyphs">0/7</text>
<text transform="translate(1423.23,1797.30)" font-size="17" font-weight="normal" font-style="normal" fill="#222" textLength="23.63" lengthAdjust="spacingAndGlyphs">3/7</text>
<text transform="translate(1464.18,1797.30)" font-size="17" font-weight="normal" font-style="normal" fill="#222" textLength="23.63" lengthAdjust="spacingAndGlyphs">1/7</text>
<text transform="translate(1505.79,1797.30)" font-size="17" font-weight="normal" font-style="normal" fill="#222" textLength="23.63" lengthAdjust="spacingAndGlyphs">3/7</text>
<text transform="translate(1547.06,1797.30)" font-size="17" font-weight="normal" font-style="normal" fill="#222" textLength="23.63" lengthAdjust="spacingAndGlyphs">0/7</text>
<text transform="translate(1588.34,1797.30)" font-size="17" font-weight="normal" font-style="normal" fill="#222" textLength="23.63" lengthAdjust="spacingAndGlyphs">0/7</text>
<text transform="translate(1712.18,1797.30)" font-size="17" font-weight="normal" font-style="normal" fill="#222" textLength="23.63" lengthAdjust="spacingAndGlyphs">0/7</text>
<text transform="translate(1753.14,1797.30)" font-size="17" font-weight="normal" font-style="normal" fill="#222" textLength="23.63" lengthAdjust="spacingAndGlyphs">1/7</text>
<text transform="translate(1195.02,1081.80)" font-size="47.5" font-weight="bold" font-style="normal" fill="#111" textLength="29.45" lengthAdjust="spacingAndGlyphs">d</text>
<text transform="translate(1296.08,1081.7)" font-size="33.2" fill="#222" textLength="361.75" lengthAdjust="spacingAndGlyphs">Regulation of PULs in <tspan font-style="italic">Bt</tspan></text>
<rect x="1785.9" y="1148.20" width="8.3" height="3.4" fill="#222"/>
<text transform="translate(1801.41,1155.60)" font-size="23.0" font-weight="normal" font-style="normal" fill="#222" textLength="211.32" lengthAdjust="spacingAndGlyphs">PUL27, host glycans</text>
<rect x="1785.9" y="1228.60" width="8.3" height="3.4" fill="#222"/>
<text transform="translate(1801.41,1236.00)" font-size="23.0" font-weight="normal" font-style="normal" fill="#222" textLength="175.47" lengthAdjust="spacingAndGlyphs">PUL61, unknown</text>
<rect x="1785.9" y="1309.00" width="8.3" height="3.4" fill="#222"/>
<text transform="translate(1801.41,1316.40)" font-size="23.0" font-weight="normal" font-style="normal" fill="#222" textLength="162.66" lengthAdjust="spacingAndGlyphs">PUL3, unknown</text>
<rect x="1785.9" y="1389.40" width="8.3" height="3.4" fill="#222"/>
<text transform="translate(1801.41,1396.80)" font-size="23.0" font-weight="normal" font-style="normal" fill="#222" textLength="175.47" lengthAdjust="spacingAndGlyphs">PUL30, unknown</text>
<rect x="1785.9" y="1469.80" width="8.3" height="3.4" fill="#222"/>
<text transform="translate(1801.41,1477.20)" font-size="23.0" font-weight="normal" font-style="normal" fill="#222" textLength="254.82" lengthAdjust="spacingAndGlyphs">PUL71, mucin O-glycans</text>
<rect x="1785.9" y="1550.20" width="8.3" height="3.4" fill="#222"/>
<text transform="translate(1801.41,1557.60)" font-size="23.0" font-weight="normal" font-style="normal" fill="#222" textLength="145.99" lengthAdjust="spacingAndGlyphs">PUL66, starch</text>
<rect x="1785.9" y="1630.60" width="8.3" height="3.4" fill="#222"/>
<text transform="translate(1801.41,1638.00)" font-size="23.0" font-weight="normal" font-style="normal" fill="#222" textLength="175.47" lengthAdjust="spacingAndGlyphs">PUL51, unknown</text>
<rect x="1785.9" y="1711.00" width="8.3" height="3.4" fill="#222"/>
<text transform="translate(1801.41,1718.40)" font-size="23.0" font-weight="normal" font-style="normal" fill="#222" textLength="204.92" lengthAdjust="spacingAndGlyphs">PUL20,host glycans</text>
<text transform="translate(1801.41,1745.60)" font-size="23.0" font-weight="normal" font-style="normal" fill="#222" textLength="266.35" lengthAdjust="spacingAndGlyphs">PUL94, complex N-glycan</text>
<rect x="1785.9" y="1791.40" width="8.3" height="3.4" fill="#222"/>
<text transform="translate(1801.41,1798.80)" font-size="23.0" font-weight="normal" font-style="normal" fill="#222" textLength="261.22" lengthAdjust="spacingAndGlyphs">PUL72, mucin O-glycans/</text>
<text transform="translate(1801.71,1826.00)" font-size="23.0" font-weight="normal" font-style="normal" fill="#222" textLength="367.52" lengthAdjust="spacingAndGlyphs">high mannose mammalian N-glycan</text>
<text transform="translate(1216.45,1858.10)" font-size="19.4" font-weight="normal" font-style="normal" fill="#333" textLength="22.64" lengthAdjust="spacingAndGlyphs">Pv</text>
<text transform="translate(1257.96,1858.10)" font-size="19.4" font-weight="normal" font-style="normal" fill="#333" textLength="22.64" lengthAdjust="spacingAndGlyphs">Ec</text>
<text transform="translate(1298.43,1858.10)" font-size="19.4" font-weight="normal" font-style="normal" fill="#333" textLength="23.73" lengthAdjust="spacingAndGlyphs">Ka</text>
<text transform="translate(1339.49,1858.10)" font-size="19.4" font-weight="normal" font-style="normal" fill="#333" textLength="24.80" lengthAdjust="spacingAndGlyphs">Ca</text>
<text transform="translate(1381.67,1858.10)" font-size="19.4" font-weight="normal" font-style="normal" fill="#333" textLength="23.71" lengthAdjust="spacingAndGlyphs">Cs</text>
<text transform="translate(1422.68,1858.10)" font-size="19.4" font-weight="normal" font-style="normal" fill="#333" textLength="24.80" lengthAdjust="spacingAndGlyphs">Cd</text>
<text transform="translate(1464.63,1858.10)" font-size="19.4" font-weight="normal" font-style="normal" fill="#333" textLength="21.58" lengthAdjust="spacingAndGlyphs">La</text>
<text transform="translate(1506.54,1858.10)" font-size="19.4" font-weight="normal" font-style="normal" fill="#333" textLength="21.58" lengthAdjust="spacingAndGlyphs">Lg</text>
<text transform="translate(1549.22,1858.10)" font-size="19.4" font-weight="normal" font-style="normal" fill="#333" textLength="19.40" lengthAdjust="spacingAndGlyphs">Ar</text>
<text transform="translate(1587.49,1858.10)" font-size="19.4" font-weight="normal" font-style="normal" fill="#333" textLength="24.80" lengthAdjust="spacingAndGlyphs">Rg</text>
<text transform="translate(1626.63,1858.10)" font-size="19.4" font-weight="normal" font-style="normal" fill="#333" textLength="29.10" lengthAdjust="spacingAndGlyphs">Pm</text>
<text transform="translate(1670.60,1858.10)" font-size="19.4" font-weight="normal" font-style="normal" fill="#333" textLength="23.73" lengthAdjust="spacingAndGlyphs">Bu</text>
<text transform="translate(1713.21,1858.10)" font-size="19.4" font-weight="normal" font-style="normal" fill="#333" textLength="20.49" lengthAdjust="spacingAndGlyphs">Ls</text>
<text transform="translate(1753.68,1858.10)" font-size="19.4" font-weight="normal" font-style="normal" fill="#333" textLength="22.64" lengthAdjust="spacingAndGlyphs">Sc</text>
<text transform="translate(1431.71,1889.30)" font-size="23.1" font-weight="normal" font-style="normal" fill="#222" textLength="160.32" lengthAdjust="spacingAndGlyphs">Partner species</text>
<defs><linearGradient id="g1858" x1="0" x2="1" y1="0" y2="0"><stop offset="0.0%" stop-color="#e5382a"/><stop offset="25.0%" stop-color="#f77c7c"/><stop offset="50.0%" stop-color="#ffffff"/><stop offset="75.0%" stop-color="#8888c8"/><stop offset="87.5%" stop-color="#4c58ac"/><stop offset="95.0%" stop-color="#3851a6"/><stop offset="100.0%" stop-color="#3450a4"/></linearGradient></defs>
<rect x="1858.3" y="1901.1" width="157.60" height="33.80" fill="url(#g1858)"/>
<rect x="1856.70" y="1895.0" width="3.2" height="6.40" fill="#222"/>
<text transform="translate(1863.30,1889.63) rotate(-90)" font-size="23.0" font-weight="normal" font-style="normal" fill="#222" textLength="12.54" lengthAdjust="spacingAndGlyphs">2</text>
<rect x="1896.10" y="1895.0" width="3.2" height="6.40" fill="#222"/>
<text transform="translate(1902.70,1890.21) rotate(-90)" font-size="23.0" font-weight="normal" font-style="normal" fill="#222" textLength="12.54" lengthAdjust="spacingAndGlyphs">1</text>
<rect x="1935.50" y="1895.0" width="3.2" height="6.40" fill="#222"/>
<text transform="translate(1942.10,1889.38) rotate(-90)" font-size="23.0" font-weight="normal" font-style="normal" fill="#222" textLength="12.54" lengthAdjust="spacingAndGlyphs">0</text>
<rect x="1974.90" y="1895.0" width="3.2" height="6.40" fill="#222"/>
<text transform="translate(1981.50,1889.60) rotate(-90)" font-size="23.0" font-weight="normal" font-style="normal" fill="#222" textLength="25.70" lengthAdjust="spacingAndGlyphs">−1</text>
<rect x="2014.30" y="1895.0" width="3.2" height="6.40" fill="#222"/>
<text transform="translate(2020.90,1889.60) rotate(-90)" font-size="23.0" font-weight="normal" font-style="normal" fill="#222" textLength="25.70" lengthAdjust="spacingAndGlyphs">−2</text>
<text transform="translate(1827.51,1958.8)" font-size="22.1" fill="#222" textLength="217.27" lengthAdjust="spacingAndGlyphs">log<tspan font-size="11.1" font-weight="bold" dy="0.6">2</tspan><tspan dy="-0.6">(co-/mono-culture)</tspan></text>
<path d="M58.40,2006.8V2116.8M126.80,2006.8V2116.8M195.20,2006.8V2116.8M263.60,2006.8V2116.8M332.00,2006.8V2116.8M400.40,2006.8V2116.8M468.80,2006.8V2116.8M537.20,2006.8V2116.8M605.60,2006.8V2116.8M674.00,2006.8V2116.8M742.40,2006.8V2116.8M810.80,2006.8V2116.8M879.20,2006.8V2116.8M947.60,2006.8V2116.8" stroke="#cdcdcd" stroke-width="3.9" fill="none"/>
<path d="M1016.00,2006.8V2116.8" stroke="#cdcdcd" stroke-width="2.6" fill="none"/>
<path d="M58.40,2062.0H1017.30" stroke="#cdcdcd" stroke-width="3.9" fill="none"/>
<circle cx="58.40" cy="2062.00" r="33.60" fill="#c44e52"/>
<circle cx="126.80" cy="2062.00" r="33.60" fill="#c44e52"/>
<path d="M126.80,2062.00L160.40,2062.00A33.60,33.60 0 0 1 126.80,2095.60Z" fill="#4c72b0"/>
<circle cx="195.20" cy="2062.00" r="33.60" fill="#c44e52"/>
<circle cx="263.60" cy="2062.00" r="37.57" fill="#c44e52"/>
<path d="M263.60,2062.00L301.17,2062.00A37.57,37.57 0 0 1 275.21,2097.73Z" fill="#4c72b0"/>
<circle cx="332.00" cy="2062.00" r="29.10" fill="#c44e52"/>
<circle cx="400.40" cy="2062.00" r="23.76" fill="#c44e52"/>
<path d="M400.40,2062.00L424.16,2062.00A23.76,23.76 0 0 1 376.64,2062.00Z" fill="#4c72b0"/>
<circle cx="468.80" cy="2062.00" r="29.10" fill="#c44e52"/>
<circle cx="537.20" cy="2062.00" r="16.80" fill="#c44e52"/>
<circle cx="605.60" cy="2062.00" r="29.10" fill="#c44e52"/>
<circle cx="742.40" cy="2062.00" r="41.15" fill="#c44e52"/>
<path d="M742.40,2062.00L783.55,2062.00A41.15,41.15 0 1 1 721.82,2026.36Z" fill="#4c72b0"/>
<circle cx="810.80" cy="2062.00" r="29.10" fill="#c44e52"/>
<path d="M810.80,2062.00L839.90,2062.00A29.10,29.10 0 0 1 796.25,2087.20Z" fill="#4c72b0"/>
<text transform="translate(-1.56,1919.50)" font-size="47.5" font-weight="bold" font-style="normal" fill="#111" textLength="26.48" lengthAdjust="spacingAndGlyphs">e</text>
<text transform="translate(439.58,1914.10)" font-size="29.5" font-weight="normal" font-style="normal" fill="#222" textLength="201.48" lengthAdjust="spacingAndGlyphs">Protein species</text>
<text transform="translate(70.00,1988.51) rotate(-90)" font-size="33.5" font-weight="normal" font-style="normal" fill="#222" textLength="31.18" lengthAdjust="spacingAndGlyphs">Bt</text>
<text transform="translate(138.40,1988.51) rotate(-90)" font-size="33.5" font-weight="normal" font-style="normal" fill="#222" textLength="40.36" lengthAdjust="spacingAndGlyphs">Bu</text>
<text transform="translate(206.80,1988.51) rotate(-90)" font-size="33.5" font-weight="normal" font-style="normal" fill="#222" textLength="38.51" lengthAdjust="spacingAndGlyphs">Pv</text>
<text transform="translate(275.20,1988.51) rotate(-90)" font-size="33.5" font-weight="normal" font-style="normal" fill="#222" textLength="49.50" lengthAdjust="spacingAndGlyphs">Pm</text>
<text transform="translate(343.60,1987.28) rotate(-90)" font-size="33.5" font-weight="normal" font-style="normal" fill="#222" textLength="38.51" lengthAdjust="spacingAndGlyphs">Sc</text>
<text transform="translate(412.00,1988.51) rotate(-90)" font-size="33.5" font-weight="normal" font-style="normal" fill="#222" textLength="40.36" lengthAdjust="spacingAndGlyphs">Ka</text>
<text transform="translate(480.40,1988.51) rotate(-90)" font-size="33.5" font-weight="normal" font-style="normal" fill="#222" textLength="38.51" lengthAdjust="spacingAndGlyphs">Ec</text>
<text transform="translate(548.80,1988.51) rotate(-90)" font-size="33.5" font-weight="normal" font-style="normal" fill="#222" textLength="42.18" lengthAdjust="spacingAndGlyphs">Rg</text>
<text transform="translate(617.20,1988.51) rotate(-90)" font-size="33.5" font-weight="normal" font-style="normal" fill="#222" textLength="34.85" lengthAdjust="spacingAndGlyphs">Ls</text>
<text transform="translate(685.60,1985.87) rotate(-90)" font-size="33.5" font-weight="normal" font-style="normal" fill="#222" textLength="33.00" lengthAdjust="spacingAndGlyphs">Ar</text>
<text transform="translate(754.00,1987.45) rotate(-90)" font-size="33.5" font-weight="normal" font-style="normal" fill="#222" textLength="40.33" lengthAdjust="spacingAndGlyphs">Cs</text>
<text transform="translate(822.40,1987.45) rotate(-90)" font-size="33.5" font-weight="normal" font-style="normal" fill="#222" textLength="42.18" lengthAdjust="spacingAndGlyphs">Cd</text>
<text transform="translate(890.80,1988.51) rotate(-90)" font-size="33.5" font-weight="normal" font-style="normal" fill="#222" textLength="36.70" lengthAdjust="spacingAndGlyphs">La</text>
<text transform="translate(959.20,1988.51) rotate(-90)" font-size="33.5" font-weight="normal" font-style="normal" fill="#222" textLength="36.70" lengthAdjust="spacingAndGlyphs">Lg</text>
<text transform="translate(1027.60,1987.45) rotate(-90)" font-size="33.5" font-weight="normal" font-style="normal" fill="#222" textLength="42.18" lengthAdjust="spacingAndGlyphs">Ca</text>
<text transform="translate(1045.42,2066.60)" font-size="34" font-weight="normal" font-style="normal" fill="#222" textLength="40.46" lengthAdjust="spacingAndGlyphs">Ca</text>
<text transform="translate(1111.70,1946.59) rotate(90)" font-size="30.8" font-weight="normal" font-style="normal" fill="#222" textLength="204.06" lengthAdjust="spacingAndGlyphs">Partner species</text>
</svg>
</body></html>
